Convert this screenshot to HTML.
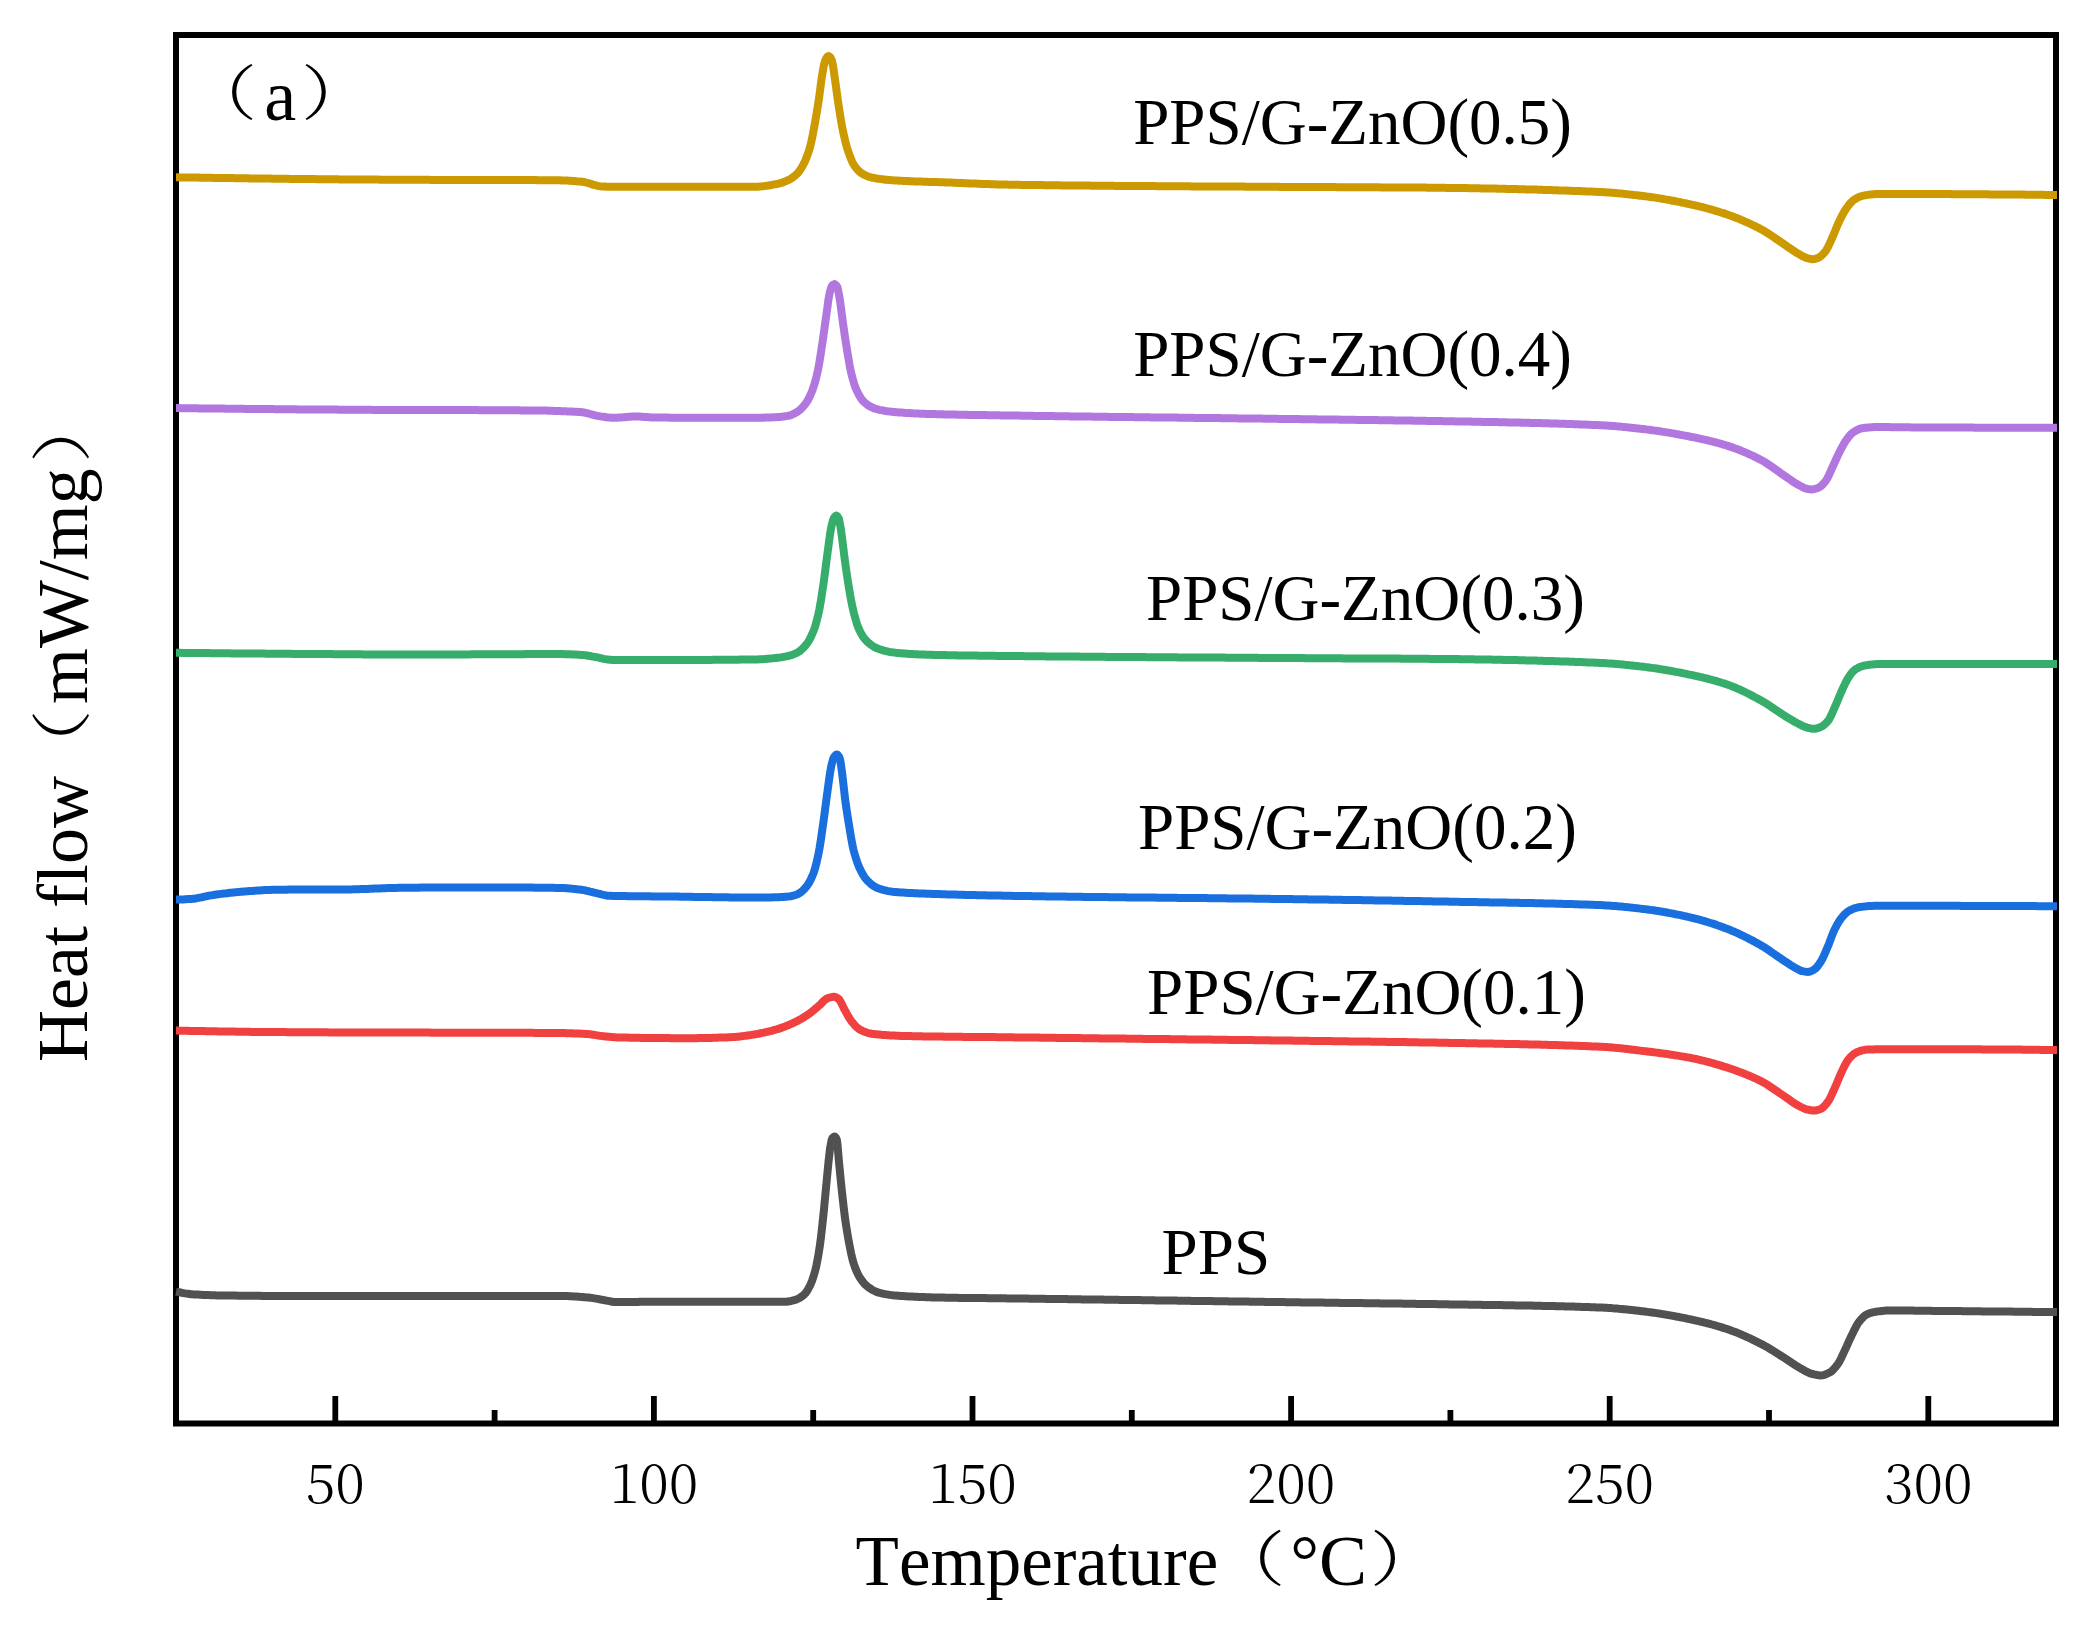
<!DOCTYPE html>
<html><head><meta charset="utf-8"><title>DSC curves</title>
<style>html,body{margin:0;padding:0;background:#fff}svg{display:block}text{font-kerning:none;font-variant-ligatures:none;fill:#000}</style>
</head><body>
<svg width="2086" height="1628" viewBox="0 0 2086 1628">
<rect width="2086" height="1628" fill="#fff"/>
<path d="M335.3 1423.5 V1396 M653.9 1423.5 V1396 M972.5 1423.5 V1396 M1291.1 1423.5 V1396 M1609.7 1423.5 V1396 M1928.3 1423.5 V1396 M494.6 1423.5 V1410 M813.2 1423.5 V1410 M1131.8 1423.5 V1410 M1450.4 1423.5 V1410 M1769.0 1423.5 V1410" stroke="#000" stroke-width="5.8" fill="none"/>
<rect x="176" y="35" width="1880" height="1388.5" fill="none" stroke="#000" stroke-width="6"/>
<path d="M176.0 1291.6 L177.5 1291.9 L179.0 1292.2 L180.5 1292.5 L182.0 1292.8 L183.5 1293.1 L185.0 1293.4 L186.5 1293.6 L188.0 1293.8 L189.5 1294.0 L191.0 1294.2 L191.6 1294.2 L192.5 1294.3 L194.0 1294.4 L195.5 1294.5 L197.0 1294.5 L198.5 1294.6 L200.0 1294.7 L201.5 1294.8 L203.0 1294.9 L204.5 1294.9 L206.0 1295.0 L207.5 1295.1 L209.0 1295.1 L210.5 1295.2 L212.0 1295.2 L213.5 1295.3 L215.0 1295.3 L216.5 1295.4 L218.0 1295.4 L219.5 1295.4 L221.0 1295.5 L222.5 1295.5 L223.9 1295.5 L224.0 1295.5 L225.5 1295.5 L227.0 1295.5 L228.5 1295.6 L230.0 1295.6 L231.5 1295.6 L233.0 1295.6 L234.5 1295.6 L236.0 1295.6 L237.5 1295.7 L239.0 1295.7 L240.5 1295.7 L242.0 1295.7 L243.5 1295.7 L245.0 1295.7 L246.5 1295.8 L248.0 1295.8 L249.5 1295.8 L251.0 1295.8 L252.5 1295.8 L254.0 1295.8 L255.5 1295.8 L257.0 1295.8 L258.5 1295.8 L260.0 1295.8 L261.5 1295.9 L263.0 1295.9 L264.5 1295.9 L266.0 1295.9 L267.5 1295.9 L269.0 1295.9 L270.5 1295.9 L272.0 1295.9 L273.5 1295.9 L275.0 1295.9 L276.5 1295.9 L277.9 1295.9 L278.0 1295.9 L279.5 1295.9 L281.0 1295.9 L282.5 1295.9 L284.0 1295.9 L285.5 1295.9 L287.0 1295.9 L288.5 1295.9 L290.0 1295.9 L291.5 1295.9 L293.0 1295.9 L294.5 1295.9 L296.0 1295.9 L297.5 1295.9 L299.0 1295.9 L300.5 1295.9 L302.0 1295.9 L303.5 1295.9 L305.0 1295.9 L306.5 1295.9 L308.0 1295.9 L309.5 1295.9 L311.0 1295.9 L312.5 1295.9 L314.0 1295.9 L315.5 1295.9 L317.0 1295.9 L318.5 1295.9 L320.0 1295.9 L321.5 1295.9 L323.0 1295.9 L324.5 1295.9 L326.0 1295.9 L327.5 1295.9 L329.0 1295.9 L330.5 1295.9 L332.0 1295.9 L333.5 1295.9 L335.0 1295.9 L336.5 1295.9 L338.0 1295.9 L339.5 1295.9 L341.0 1295.9 L342.5 1295.9 L344.0 1295.9 L345.5 1295.9 L347.0 1295.9 L348.5 1295.9 L350.0 1295.9 L351.5 1295.9 L353.0 1295.9 L354.5 1295.9 L356.0 1295.9 L357.5 1295.9 L359.0 1295.9 L360.5 1295.9 L362.0 1295.9 L363.5 1295.9 L365.0 1295.9 L366.5 1295.9 L368.0 1295.9 L369.5 1295.9 L371.0 1295.9 L372.5 1295.9 L374.0 1295.9 L375.5 1295.9 L377.0 1295.9 L378.5 1295.9 L380.0 1295.9 L381.5 1295.9 L383.0 1295.9 L384.5 1295.9 L386.0 1295.9 L387.5 1295.9 L389.0 1295.9 L390.5 1295.9 L392.0 1295.9 L393.5 1295.9 L395.0 1295.9 L396.5 1295.9 L398.0 1295.9 L399.5 1295.9 L401.0 1295.9 L402.5 1295.9 L404.0 1295.9 L405.5 1295.9 L407.0 1295.9 L408.5 1295.9 L410.0 1295.9 L411.5 1295.9 L413.0 1295.9 L414.5 1295.9 L416.0 1295.9 L417.5 1295.9 L419.0 1295.9 L420.5 1295.9 L422.0 1295.9 L423.5 1295.9 L425.0 1295.9 L426.5 1295.9 L428.0 1295.9 L429.5 1295.9 L431.0 1295.9 L432.5 1295.9 L434.0 1295.9 L435.5 1295.9 L437.0 1295.9 L438.5 1295.9 L440.0 1295.9 L441.5 1295.9 L443.0 1295.9 L444.5 1295.9 L446.0 1295.9 L447.5 1295.9 L449.0 1295.9 L450.5 1295.9 L452.0 1295.9 L453.5 1295.9 L455.0 1295.9 L456.5 1295.9 L458.0 1295.9 L459.5 1295.9 L461.0 1295.9 L462.5 1295.9 L464.0 1295.9 L465.5 1295.9 L467.0 1295.9 L468.5 1295.9 L470.0 1295.9 L471.5 1295.9 L473.0 1295.9 L474.5 1295.9 L476.0 1295.9 L477.5 1295.9 L479.0 1295.9 L480.5 1295.9 L482.0 1295.9 L483.5 1295.9 L485.0 1295.9 L486.5 1295.9 L488.0 1295.9 L489.5 1295.9 L491.0 1295.9 L492.5 1295.9 L494.0 1295.9 L495.5 1295.9 L497.0 1295.9 L498.5 1295.9 L500.0 1295.9 L501.5 1295.9 L503.0 1295.9 L504.5 1295.9 L506.0 1295.9 L507.5 1295.9 L509.0 1295.9 L510.5 1295.9 L512.0 1295.9 L513.5 1295.9 L515.0 1295.9 L516.5 1295.9 L518.0 1295.9 L519.5 1295.9 L521.0 1295.9 L522.5 1295.9 L524.0 1295.9 L525.5 1295.9 L527.0 1295.9 L528.5 1295.9 L530.0 1295.9 L531.5 1295.9 L533.0 1295.9 L534.5 1295.9 L536.0 1295.9 L537.5 1295.9 L539.0 1295.9 L540.5 1295.9 L542.0 1295.9 L543.5 1295.9 L545.0 1295.9 L546.5 1295.9 L548.0 1295.9 L549.5 1295.9 L551.0 1295.9 L552.5 1295.9 L554.0 1295.9 L555.5 1295.9 L557.0 1295.9 L558.3 1295.9 L558.5 1295.9 L560.0 1295.9 L561.5 1295.9 L563.0 1296.0 L564.5 1296.0 L566.0 1296.0 L567.5 1296.1 L569.0 1296.2 L570.5 1296.2 L572.0 1296.3 L573.5 1296.4 L575.0 1296.5 L576.5 1296.6 L578.0 1296.7 L579.5 1296.8 L581.0 1296.9 L582.5 1297.0 L584.0 1297.2 L585.5 1297.3 L587.0 1297.4 L588.0 1297.5 L588.5 1297.5 L590.0 1297.7 L591.5 1297.9 L593.0 1298.1 L594.5 1298.4 L596.0 1298.6 L597.5 1298.9 L599.0 1299.2 L600.5 1299.5 L602.0 1299.7 L603.1 1299.9 L603.5 1300.0 L605.0 1300.3 L606.5 1300.6 L608.0 1300.9 L609.5 1301.2 L611.0 1301.5 L612.5 1301.8 L614.0 1302.0 L615.5 1302.1 L616.1 1302.1 L617.0 1302.1 L618.5 1302.1 L620.0 1302.1 L621.5 1302.1 L623.0 1302.1 L624.5 1302.0 L626.0 1302.0 L627.5 1302.0 L629.0 1302.0 L630.5 1302.0 L632.0 1301.9 L633.5 1301.9 L635.0 1301.9 L636.5 1301.9 L638.0 1301.9 L639.5 1301.8 L641.0 1301.8 L642.5 1301.8 L644.0 1301.8 L645.5 1301.8 L646.3 1301.8 L647.0 1301.8 L648.5 1301.8 L650.0 1301.8 L651.5 1301.8 L653.0 1301.8 L654.5 1301.8 L656.0 1301.8 L657.5 1301.8 L659.0 1301.8 L660.5 1301.8 L662.0 1301.8 L663.5 1301.8 L665.0 1301.8 L666.5 1301.8 L668.0 1301.8 L669.5 1301.8 L671.0 1301.8 L672.5 1301.8 L674.0 1301.8 L675.5 1301.8 L677.0 1301.8 L678.5 1301.8 L680.0 1301.8 L681.5 1301.8 L683.0 1301.8 L684.5 1301.8 L686.0 1301.8 L687.5 1301.8 L689.0 1301.8 L690.5 1301.8 L692.0 1301.8 L693.5 1301.8 L695.0 1301.8 L696.5 1301.8 L698.0 1301.8 L699.5 1301.8 L701.0 1301.8 L702.5 1301.8 L704.0 1301.8 L705.5 1301.8 L707.0 1301.8 L708.5 1301.8 L710.0 1301.8 L711.5 1301.8 L713.0 1301.8 L714.5 1301.8 L716.0 1301.8 L717.5 1301.8 L719.0 1301.8 L720.5 1301.8 L722.0 1301.8 L723.5 1301.8 L725.0 1301.8 L726.5 1301.8 L728.0 1301.8 L729.5 1301.8 L731.0 1301.8 L732.5 1301.8 L734.0 1301.8 L735.5 1301.8 L737.0 1301.8 L738.5 1301.8 L740.0 1301.8 L741.5 1301.8 L743.0 1301.8 L744.5 1301.8 L746.0 1301.8 L747.5 1301.8 L749.0 1301.8 L750.5 1301.8 L752.0 1301.8 L753.5 1301.8 L754.0 1301.8 L755.0 1301.8 L756.5 1301.8 L758.0 1301.8 L759.5 1301.8 L761.0 1301.8 L762.5 1301.8 L764.0 1301.8 L765.5 1301.8 L767.0 1301.8 L768.5 1301.8 L770.0 1301.8 L771.5 1301.8 L773.0 1301.8 L774.5 1301.8 L776.0 1301.8 L777.5 1301.8 L779.0 1301.8 L780.5 1301.8 L782.0 1301.8 L783.5 1301.8 L784.4 1301.8 L785.0 1301.8 L786.5 1301.7 L788.0 1301.5 L789.5 1301.3 L791.0 1301.0 L792.5 1300.6 L794.0 1300.2 L795.1 1299.9 L795.5 1299.8 L797.0 1299.2 L798.5 1298.5 L800.0 1297.7 L801.5 1296.7 L803.0 1295.6 L803.8 1294.9 L804.5 1294.2 L806.0 1292.5 L807.5 1290.2 L809.0 1287.5 L810.2 1285.2 L810.5 1284.6 L812.0 1280.9 L813.5 1276.5 L815.0 1271.3 L815.6 1269.0 L816.5 1265.1 L818.0 1257.3 L819.5 1248.0 L819.9 1245.3 L821.0 1236.9 L822.5 1223.5 L823.6 1213.0 L824.0 1209.1 L825.5 1193.2 L827.0 1177.3 L827.1 1176.3 L828.5 1161.8 L830.0 1148.8 L830.1 1148.2 L831.5 1140.6 L832.2 1138.5 L833.0 1137.4 L834.4 1136.4 L834.5 1136.4 L836.0 1137.9 L836.8 1139.6 L837.5 1144.4 L838.9 1161.2 L839.0 1162.2 L840.5 1177.7 L841.9 1191.4 L842.0 1192.3 L843.5 1205.8 L845.0 1218.0 L845.2 1219.4 L846.5 1228.2 L848.0 1237.2 L849.1 1243.2 L849.5 1245.3 L851.0 1252.8 L852.5 1259.4 L853.4 1262.6 L854.0 1264.4 L855.5 1268.6 L857.0 1272.2 L858.5 1275.3 L859.9 1277.7 L860.0 1277.9 L861.5 1280.0 L863.0 1282.0 L864.5 1283.8 L866.0 1285.3 L867.5 1286.6 L868.5 1287.4 L869.0 1287.7 L870.5 1288.7 L872.0 1289.7 L873.5 1290.5 L875.0 1291.2 L876.5 1291.9 L878.0 1292.4 L879.3 1292.8 L879.5 1292.9 L881.0 1293.2 L882.5 1293.6 L884.0 1293.9 L885.5 1294.2 L887.0 1294.4 L888.5 1294.7 L890.0 1294.9 L891.5 1295.1 L893.0 1295.3 L894.5 1295.4 L896.0 1295.6 L896.5 1295.6 L897.5 1295.7 L899.0 1295.8 L900.5 1295.9 L902.0 1296.0 L903.5 1296.1 L905.0 1296.2 L906.5 1296.3 L908.0 1296.4 L909.5 1296.5 L911.0 1296.5 L912.5 1296.6 L914.0 1296.7 L915.5 1296.8 L917.0 1296.8 L918.5 1296.9 L920.0 1297.0 L921.5 1297.0 L923.0 1297.1 L924.5 1297.1 L926.0 1297.2 L927.5 1297.2 L929.0 1297.3 L930.5 1297.3 L932.0 1297.4 L933.5 1297.4 L935.0 1297.4 L936.5 1297.5 L937.5 1297.5 L938.0 1297.5 L939.5 1297.5 L941.0 1297.6 L942.5 1297.6 L944.0 1297.6 L945.5 1297.7 L947.0 1297.7 L948.5 1297.7 L950.0 1297.7 L951.5 1297.7 L953.0 1297.8 L954.5 1297.8 L956.0 1297.8 L957.5 1297.8 L959.0 1297.9 L960.5 1297.9 L962.0 1297.9 L963.5 1297.9 L965.0 1297.9 L966.5 1297.9 L968.0 1298.0 L969.5 1298.0 L971.0 1298.0 L972.5 1298.0 L974.0 1298.0 L975.5 1298.0 L977.0 1298.1 L978.5 1298.1 L980.0 1298.1 L981.5 1298.1 L983.0 1298.1 L984.5 1298.1 L986.0 1298.1 L987.5 1298.2 L989.0 1298.2 L990.5 1298.2 L992.0 1298.2 L993.5 1298.2 L995.0 1298.2 L996.5 1298.2 L998.0 1298.3 L999.5 1298.3 L1001.0 1298.3 L1002.5 1298.3 L1004.0 1298.3 L1005.5 1298.3 L1007.0 1298.4 L1008.5 1298.4 L1010.0 1298.4 L1011.5 1298.4 L1013.0 1298.4 L1014.5 1298.5 L1016.0 1298.5 L1017.5 1298.5 L1019.0 1298.5 L1020.5 1298.5 L1022.0 1298.6 L1023.5 1298.6 L1025.0 1298.6 L1026.5 1298.6 L1028.0 1298.6 L1029.5 1298.7 L1031.0 1298.7 L1032.5 1298.7 L1034.0 1298.7 L1035.5 1298.7 L1037.0 1298.8 L1038.5 1298.8 L1040.0 1298.8 L1041.5 1298.8 L1043.0 1298.8 L1044.5 1298.8 L1046.0 1298.9 L1047.5 1298.9 L1049.0 1298.9 L1050.5 1298.9 L1052.0 1298.9 L1053.5 1299.0 L1055.0 1299.0 L1056.5 1299.0 L1058.0 1299.0 L1059.5 1299.0 L1061.0 1299.1 L1062.5 1299.1 L1064.0 1299.1 L1065.5 1299.1 L1067.0 1299.1 L1068.5 1299.2 L1070.0 1299.2 L1071.5 1299.2 L1073.0 1299.2 L1074.5 1299.2 L1076.0 1299.3 L1077.5 1299.3 L1079.0 1299.3 L1080.5 1299.3 L1082.0 1299.4 L1083.5 1299.4 L1085.0 1299.4 L1086.5 1299.4 L1088.0 1299.4 L1089.5 1299.5 L1091.0 1299.5 L1092.5 1299.5 L1094.0 1299.5 L1095.5 1299.5 L1097.0 1299.6 L1098.5 1299.6 L1100.0 1299.6 L1101.5 1299.6 L1103.0 1299.6 L1104.5 1299.7 L1106.0 1299.7 L1107.5 1299.7 L1109.0 1299.7 L1110.5 1299.7 L1112.0 1299.8 L1113.5 1299.8 L1115.0 1299.8 L1116.5 1299.8 L1118.0 1299.8 L1119.5 1299.9 L1121.0 1299.9 L1122.5 1299.9 L1124.0 1299.9 L1125.5 1299.9 L1127.0 1300.0 L1128.5 1300.0 L1130.0 1300.0 L1131.5 1300.0 L1133.0 1300.0 L1134.5 1300.1 L1136.0 1300.1 L1137.5 1300.1 L1139.0 1300.1 L1140.5 1300.1 L1142.0 1300.2 L1143.5 1300.2 L1145.0 1300.2 L1146.5 1300.2 L1148.0 1300.3 L1149.5 1300.3 L1151.0 1300.3 L1152.5 1300.3 L1154.0 1300.3 L1155.5 1300.4 L1157.0 1300.4 L1158.5 1300.4 L1160.0 1300.4 L1161.5 1300.4 L1163.0 1300.5 L1164.5 1300.5 L1166.0 1300.5 L1167.5 1300.5 L1169.0 1300.5 L1170.5 1300.6 L1172.0 1300.6 L1173.5 1300.6 L1175.0 1300.6 L1176.5 1300.6 L1178.0 1300.7 L1179.5 1300.7 L1181.0 1300.7 L1182.5 1300.7 L1184.0 1300.7 L1185.5 1300.8 L1187.0 1300.8 L1188.5 1300.8 L1190.0 1300.8 L1191.5 1300.9 L1193.0 1300.9 L1194.5 1300.9 L1196.0 1300.9 L1197.5 1300.9 L1199.0 1301.0 L1200.5 1301.0 L1202.0 1301.0 L1203.5 1301.0 L1205.0 1301.0 L1206.5 1301.1 L1208.0 1301.1 L1209.5 1301.1 L1211.0 1301.1 L1212.5 1301.1 L1214.0 1301.2 L1215.5 1301.2 L1217.0 1301.2 L1218.5 1301.2 L1220.0 1301.2 L1221.5 1301.3 L1223.0 1301.3 L1224.5 1301.3 L1226.0 1301.3 L1227.5 1301.3 L1229.0 1301.4 L1230.5 1301.4 L1232.0 1301.4 L1233.5 1301.4 L1235.0 1301.5 L1236.5 1301.5 L1238.0 1301.5 L1239.5 1301.5 L1241.0 1301.5 L1242.5 1301.6 L1244.0 1301.6 L1245.5 1301.6 L1247.0 1301.6 L1248.5 1301.6 L1250.0 1301.7 L1251.5 1301.7 L1253.0 1301.7 L1254.5 1301.7 L1256.0 1301.7 L1257.5 1301.8 L1259.0 1301.8 L1260.5 1301.8 L1262.0 1301.8 L1263.5 1301.8 L1265.0 1301.9 L1266.5 1301.9 L1268.0 1301.9 L1269.5 1301.9 L1271.0 1301.9 L1272.5 1302.0 L1274.0 1302.0 L1275.5 1302.0 L1277.0 1302.0 L1278.5 1302.0 L1280.0 1302.1 L1281.5 1302.1 L1283.0 1302.1 L1284.5 1302.1 L1286.0 1302.2 L1287.5 1302.2 L1289.0 1302.2 L1290.5 1302.2 L1292.0 1302.2 L1293.5 1302.3 L1295.0 1302.3 L1296.5 1302.3 L1297.0 1302.3 L1298.0 1302.3 L1299.5 1302.3 L1301.0 1302.4 L1302.5 1302.4 L1304.0 1302.4 L1305.5 1302.4 L1307.0 1302.4 L1308.5 1302.5 L1310.0 1302.5 L1311.5 1302.5 L1313.0 1302.5 L1314.5 1302.5 L1316.0 1302.6 L1317.5 1302.6 L1319.0 1302.6 L1320.5 1302.6 L1322.0 1302.6 L1323.5 1302.6 L1325.0 1302.7 L1326.5 1302.7 L1328.0 1302.7 L1329.5 1302.7 L1331.0 1302.7 L1332.5 1302.8 L1334.0 1302.8 L1335.5 1302.8 L1337.0 1302.8 L1338.5 1302.8 L1340.0 1302.9 L1341.5 1302.9 L1343.0 1302.9 L1344.5 1302.9 L1346.0 1302.9 L1347.5 1302.9 L1349.0 1303.0 L1350.5 1303.0 L1352.0 1303.0 L1353.5 1303.0 L1355.0 1303.0 L1356.5 1303.1 L1358.0 1303.1 L1359.5 1303.1 L1361.0 1303.1 L1362.5 1303.1 L1364.0 1303.2 L1365.5 1303.2 L1367.0 1303.2 L1368.5 1303.2 L1370.0 1303.2 L1371.5 1303.2 L1373.0 1303.3 L1374.5 1303.3 L1376.0 1303.3 L1377.5 1303.3 L1379.0 1303.3 L1380.5 1303.4 L1382.0 1303.4 L1383.5 1303.4 L1385.0 1303.4 L1386.5 1303.4 L1388.0 1303.5 L1389.5 1303.5 L1391.0 1303.5 L1392.5 1303.5 L1394.0 1303.5 L1395.5 1303.6 L1397.0 1303.6 L1398.5 1303.6 L1400.0 1303.6 L1401.5 1303.6 L1403.0 1303.7 L1404.5 1303.7 L1406.0 1303.7 L1407.5 1303.7 L1409.0 1303.7 L1410.5 1303.8 L1412.0 1303.8 L1413.5 1303.8 L1415.0 1303.8 L1416.5 1303.9 L1418.0 1303.9 L1419.5 1303.9 L1421.0 1303.9 L1422.5 1303.9 L1424.0 1304.0 L1425.5 1304.0 L1427.0 1304.0 L1428.5 1304.0 L1430.0 1304.1 L1431.5 1304.1 L1433.0 1304.1 L1434.5 1304.1 L1436.0 1304.1 L1437.5 1304.2 L1439.0 1304.2 L1440.5 1304.2 L1442.0 1304.2 L1443.5 1304.3 L1445.0 1304.3 L1445.8 1304.3 L1446.5 1304.3 L1448.0 1304.3 L1449.5 1304.4 L1451.0 1304.4 L1452.5 1304.4 L1454.0 1304.4 L1455.5 1304.5 L1457.0 1304.5 L1458.5 1304.5 L1460.0 1304.5 L1461.5 1304.5 L1463.0 1304.6 L1464.5 1304.6 L1466.0 1304.6 L1467.5 1304.6 L1469.0 1304.7 L1470.5 1304.7 L1472.0 1304.7 L1473.5 1304.7 L1475.0 1304.7 L1476.5 1304.8 L1478.0 1304.8 L1479.5 1304.8 L1481.0 1304.8 L1482.5 1304.9 L1484.0 1304.9 L1485.5 1304.9 L1487.0 1304.9 L1488.5 1304.9 L1490.0 1305.0 L1491.5 1305.0 L1493.0 1305.0 L1494.5 1305.0 L1496.0 1305.0 L1497.5 1305.1 L1499.0 1305.1 L1500.5 1305.1 L1502.0 1305.1 L1503.5 1305.2 L1505.0 1305.2 L1506.5 1305.2 L1508.0 1305.2 L1509.5 1305.3 L1511.0 1305.3 L1512.5 1305.3 L1514.0 1305.3 L1515.5 1305.4 L1517.0 1305.4 L1518.5 1305.4 L1520.0 1305.4 L1521.5 1305.5 L1523.0 1305.5 L1524.5 1305.5 L1526.0 1305.5 L1527.5 1305.6 L1529.0 1305.6 L1530.5 1305.6 L1532.0 1305.6 L1533.5 1305.7 L1535.0 1305.7 L1536.5 1305.7 L1538.0 1305.8 L1539.5 1305.8 L1541.0 1305.8 L1542.5 1305.9 L1544.0 1305.9 L1545.5 1305.9 L1547.0 1305.9 L1548.5 1306.0 L1550.0 1306.0 L1551.5 1306.1 L1553.0 1306.1 L1554.5 1306.1 L1556.0 1306.2 L1557.5 1306.2 L1559.0 1306.2 L1560.5 1306.3 L1562.0 1306.3 L1563.5 1306.3 L1565.0 1306.4 L1566.5 1306.4 L1568.0 1306.5 L1569.5 1306.5 L1571.0 1306.5 L1572.5 1306.6 L1574.0 1306.6 L1575.5 1306.7 L1577.0 1306.7 L1578.5 1306.8 L1580.0 1306.8 L1581.5 1306.9 L1583.0 1306.9 L1584.5 1307.0 L1586.0 1307.0 L1587.5 1307.1 L1589.0 1307.1 L1590.5 1307.2 L1592.0 1307.2 L1593.5 1307.3 L1595.0 1307.3 L1596.5 1307.4 L1598.0 1307.4 L1599.5 1307.5 L1600.0 1307.5 L1601.0 1307.5 L1602.5 1307.6 L1604.0 1307.7 L1605.5 1307.8 L1607.0 1307.8 L1608.5 1307.9 L1610.0 1308.0 L1611.5 1308.1 L1613.0 1308.3 L1614.5 1308.4 L1616.0 1308.5 L1617.5 1308.6 L1619.0 1308.8 L1620.5 1308.9 L1622.0 1309.0 L1623.5 1309.2 L1625.0 1309.3 L1626.5 1309.5 L1628.0 1309.6 L1629.5 1309.8 L1631.0 1310.0 L1632.5 1310.1 L1634.0 1310.3 L1635.5 1310.5 L1637.0 1310.6 L1638.5 1310.8 L1640.0 1311.0 L1641.5 1311.2 L1643.0 1311.3 L1644.5 1311.5 L1646.0 1311.7 L1647.5 1311.9 L1649.0 1312.1 L1650.5 1312.3 L1652.0 1312.5 L1653.5 1312.7 L1655.0 1312.9 L1656.5 1313.1 L1658.0 1313.3 L1659.5 1313.6 L1661.0 1313.8 L1662.5 1314.1 L1664.0 1314.3 L1665.5 1314.6 L1667.0 1314.8 L1668.5 1315.1 L1670.0 1315.3 L1671.5 1315.6 L1673.0 1315.9 L1674.5 1316.2 L1676.0 1316.5 L1677.5 1316.7 L1679.0 1317.0 L1680.5 1317.3 L1682.0 1317.6 L1683.5 1317.9 L1685.0 1318.2 L1686.5 1318.5 L1688.0 1318.9 L1689.5 1319.2 L1691.0 1319.5 L1692.0 1319.7 L1692.5 1319.8 L1694.0 1320.1 L1695.5 1320.5 L1697.0 1320.8 L1698.5 1321.1 L1700.0 1321.5 L1701.5 1321.8 L1703.0 1322.2 L1704.5 1322.6 L1706.0 1322.9 L1707.5 1323.3 L1709.0 1323.7 L1710.5 1324.1 L1712.0 1324.5 L1713.5 1324.9 L1715.0 1325.3 L1716.5 1325.8 L1718.0 1326.2 L1719.5 1326.7 L1721.0 1327.1 L1722.5 1327.6 L1724.0 1328.1 L1725.5 1328.5 L1726.6 1328.9 L1727.0 1329.0 L1728.5 1329.5 L1730.0 1330.1 L1731.5 1330.6 L1733.0 1331.2 L1734.5 1331.7 L1736.0 1332.3 L1737.5 1332.9 L1739.0 1333.5 L1740.5 1334.2 L1742.0 1334.8 L1743.5 1335.5 L1745.0 1336.1 L1746.5 1336.8 L1748.0 1337.5 L1749.5 1338.2 L1751.0 1338.9 L1752.5 1339.6 L1754.0 1340.4 L1755.5 1341.1 L1757.0 1341.8 L1758.5 1342.6 L1760.0 1343.3 L1761.1 1343.9 L1761.5 1344.1 L1763.0 1344.9 L1764.5 1345.7 L1766.0 1346.5 L1767.5 1347.4 L1769.0 1348.3 L1770.5 1349.2 L1772.0 1350.1 L1773.5 1351.0 L1775.0 1352.0 L1776.5 1352.9 L1778.0 1353.9 L1779.5 1354.8 L1781.0 1355.8 L1782.5 1356.7 L1784.0 1357.6 L1784.1 1357.7 L1785.5 1358.6 L1787.0 1359.6 L1788.5 1360.6 L1790.0 1361.6 L1791.5 1362.6 L1793.0 1363.6 L1794.5 1364.6 L1796.0 1365.6 L1797.5 1366.5 L1799.0 1367.4 L1800.2 1368.1 L1800.5 1368.3 L1802.0 1369.1 L1803.5 1370.0 L1805.0 1370.9 L1806.5 1371.7 L1808.0 1372.4 L1809.5 1373.1 L1811.0 1373.6 L1811.7 1373.8 L1812.5 1374.0 L1814.0 1374.4 L1815.5 1374.7 L1817.0 1375.0 L1818.5 1375.2 L1820.0 1375.4 L1820.9 1375.4 L1821.5 1375.4 L1823.0 1375.2 L1824.5 1374.8 L1826.0 1374.2 L1827.5 1373.5 L1829.0 1372.8 L1830.1 1372.2 L1830.5 1372.0 L1832.0 1370.9 L1833.5 1369.4 L1835.0 1367.7 L1836.5 1365.8 L1838.0 1363.8 L1838.2 1363.5 L1839.5 1361.4 L1841.0 1358.5 L1842.5 1355.3 L1844.0 1352.1 L1845.1 1349.7 L1845.5 1348.9 L1847.0 1345.6 L1848.5 1342.2 L1850.0 1338.9 L1851.5 1335.7 L1852.0 1334.7 L1853.0 1332.7 L1854.5 1329.6 L1856.0 1326.7 L1857.5 1324.0 L1858.9 1322.0 L1859.0 1321.9 L1860.5 1320.0 L1862.0 1318.3 L1863.5 1316.8 L1865.0 1315.5 L1866.5 1314.6 L1866.9 1314.4 L1868.0 1313.9 L1869.5 1313.3 L1871.0 1312.8 L1872.5 1312.4 L1874.0 1312.1 L1875.5 1311.8 L1876.1 1311.7 L1877.0 1311.6 L1878.5 1311.4 L1880.0 1311.2 L1881.5 1311.0 L1883.0 1310.9 L1884.5 1310.7 L1886.0 1310.6 L1887.5 1310.5 L1889.0 1310.5 L1889.9 1310.5 L1890.5 1310.5 L1892.0 1310.5 L1893.5 1310.5 L1895.0 1310.5 L1896.5 1310.5 L1898.0 1310.5 L1899.5 1310.5 L1901.0 1310.5 L1902.5 1310.5 L1904.0 1310.6 L1905.5 1310.6 L1907.0 1310.6 L1908.5 1310.6 L1910.0 1310.6 L1911.5 1310.6 L1913.0 1310.6 L1914.5 1310.7 L1916.0 1310.7 L1917.5 1310.7 L1919.0 1310.7 L1920.5 1310.7 L1922.0 1310.7 L1923.5 1310.8 L1925.0 1310.8 L1926.5 1310.8 L1928.0 1310.8 L1929.5 1310.8 L1931.0 1310.8 L1932.5 1310.9 L1934.0 1310.9 L1935.5 1310.9 L1937.0 1310.9 L1938.5 1310.9 L1940.0 1310.9 L1941.5 1311.0 L1943.0 1311.0 L1944.5 1311.0 L1945.2 1311.0 L1946.0 1311.0 L1947.5 1311.0 L1949.0 1311.0 L1950.5 1311.0 L1952.0 1311.1 L1953.5 1311.1 L1955.0 1311.1 L1956.5 1311.1 L1958.0 1311.1 L1959.5 1311.1 L1961.0 1311.1 L1962.5 1311.2 L1964.0 1311.2 L1965.5 1311.2 L1967.0 1311.2 L1968.5 1311.2 L1970.0 1311.2 L1971.5 1311.2 L1973.0 1311.3 L1974.5 1311.3 L1976.0 1311.3 L1977.5 1311.3 L1979.0 1311.3 L1980.5 1311.3 L1982.0 1311.4 L1983.5 1311.4 L1985.0 1311.4 L1986.5 1311.4 L1988.0 1311.4 L1989.5 1311.4 L1991.0 1311.4 L1992.5 1311.5 L1994.0 1311.5 L1995.5 1311.5 L1997.0 1311.5 L1998.5 1311.5 L2000.0 1311.5 L2001.5 1311.5 L2003.0 1311.6 L2004.5 1311.6 L2006.0 1311.6 L2007.5 1311.6 L2009.0 1311.6 L2010.5 1311.6 L2012.0 1311.6 L2013.5 1311.7 L2015.0 1311.7 L2016.5 1311.7 L2018.0 1311.7 L2019.5 1311.7 L2021.0 1311.7 L2022.5 1311.7 L2024.0 1311.8 L2025.5 1311.8 L2027.0 1311.8 L2028.5 1311.8 L2030.0 1311.8 L2031.5 1311.8 L2033.0 1311.9 L2034.5 1311.9 L2036.0 1311.9 L2037.5 1311.9 L2039.0 1311.9 L2040.5 1311.9 L2042.0 1311.9 L2043.5 1312.0 L2045.0 1312.0 L2046.5 1312.0 L2048.0 1312.0 L2049.5 1312.0 L2051.0 1312.0 L2052.5 1312.1 L2054.0 1312.1 L2055.5 1312.1 L2057.0 1312.1" fill="none" stroke="#515151" stroke-width="8" stroke-linejoin="round"/>
<path d="M176.0 1030.6 L177.5 1030.6 L179.0 1030.7 L180.5 1030.7 L182.0 1030.7 L183.5 1030.7 L185.0 1030.8 L186.5 1030.8 L188.0 1030.8 L189.5 1030.9 L191.0 1030.9 L192.5 1030.9 L194.0 1030.9 L195.5 1031.0 L197.0 1031.0 L198.5 1031.0 L200.0 1031.0 L201.5 1031.1 L203.0 1031.1 L204.5 1031.1 L206.0 1031.2 L207.5 1031.2 L209.0 1031.2 L210.5 1031.2 L212.0 1031.3 L213.5 1031.3 L215.0 1031.3 L216.5 1031.3 L218.0 1031.4 L219.5 1031.4 L221.0 1031.4 L222.5 1031.4 L224.0 1031.5 L225.5 1031.5 L227.0 1031.5 L228.5 1031.5 L230.0 1031.6 L231.5 1031.6 L233.0 1031.6 L234.5 1031.6 L236.0 1031.7 L237.5 1031.7 L239.0 1031.7 L240.5 1031.7 L242.0 1031.7 L243.5 1031.8 L245.0 1031.8 L246.5 1031.8 L248.0 1031.8 L249.5 1031.8 L251.0 1031.9 L252.5 1031.9 L254.0 1031.9 L255.5 1031.9 L257.0 1031.9 L258.5 1031.9 L260.0 1032.0 L261.5 1032.0 L263.0 1032.0 L264.5 1032.0 L266.0 1032.0 L267.5 1032.0 L269.0 1032.0 L270.5 1032.0 L272.0 1032.1 L273.5 1032.1 L275.0 1032.1 L276.5 1032.1 L277.9 1032.1 L278.0 1032.1 L279.5 1032.1 L281.0 1032.1 L282.5 1032.1 L284.0 1032.1 L285.5 1032.1 L287.0 1032.2 L288.5 1032.2 L290.0 1032.2 L291.5 1032.2 L293.0 1032.2 L294.5 1032.2 L296.0 1032.2 L297.5 1032.2 L299.0 1032.2 L300.5 1032.2 L302.0 1032.2 L303.5 1032.2 L305.0 1032.2 L306.5 1032.3 L308.0 1032.3 L309.5 1032.3 L311.0 1032.3 L312.5 1032.3 L314.0 1032.3 L315.5 1032.3 L317.0 1032.3 L318.5 1032.3 L320.0 1032.3 L321.5 1032.3 L323.0 1032.3 L324.5 1032.3 L326.0 1032.3 L327.5 1032.3 L329.0 1032.4 L330.5 1032.4 L332.0 1032.4 L333.5 1032.4 L335.0 1032.4 L336.5 1032.4 L338.0 1032.4 L339.5 1032.4 L341.0 1032.4 L342.5 1032.4 L344.0 1032.4 L345.5 1032.4 L347.0 1032.4 L348.5 1032.4 L350.0 1032.4 L351.5 1032.4 L353.0 1032.4 L354.5 1032.4 L356.0 1032.4 L357.5 1032.5 L359.0 1032.5 L360.5 1032.5 L362.0 1032.5 L363.5 1032.5 L365.0 1032.5 L366.5 1032.5 L368.0 1032.5 L369.5 1032.5 L371.0 1032.5 L372.5 1032.5 L374.0 1032.5 L375.5 1032.5 L377.0 1032.5 L378.5 1032.5 L380.0 1032.5 L381.5 1032.5 L383.0 1032.5 L384.5 1032.5 L386.0 1032.5 L387.5 1032.5 L389.0 1032.5 L390.5 1032.5 L392.0 1032.6 L393.5 1032.6 L395.0 1032.6 L396.5 1032.6 L398.0 1032.6 L399.5 1032.6 L401.0 1032.6 L402.5 1032.6 L404.0 1032.6 L405.5 1032.6 L407.0 1032.6 L408.5 1032.6 L410.0 1032.6 L411.5 1032.6 L413.0 1032.6 L414.5 1032.6 L416.0 1032.6 L417.5 1032.6 L419.0 1032.6 L420.5 1032.6 L422.0 1032.6 L423.5 1032.6 L425.0 1032.6 L426.5 1032.6 L428.0 1032.6 L429.5 1032.6 L431.0 1032.7 L432.5 1032.7 L434.0 1032.7 L435.5 1032.7 L437.0 1032.7 L438.5 1032.7 L440.0 1032.7 L441.5 1032.7 L443.0 1032.7 L444.5 1032.7 L446.0 1032.7 L447.5 1032.7 L449.0 1032.7 L450.4 1032.7 L450.5 1032.7 L452.0 1032.7 L453.5 1032.7 L455.0 1032.7 L456.5 1032.7 L458.0 1032.7 L459.5 1032.7 L461.0 1032.7 L462.5 1032.7 L464.0 1032.7 L465.5 1032.7 L467.0 1032.7 L468.5 1032.7 L470.0 1032.7 L471.5 1032.7 L473.0 1032.7 L474.5 1032.7 L476.0 1032.7 L477.5 1032.7 L479.0 1032.8 L480.5 1032.8 L482.0 1032.8 L483.5 1032.8 L485.0 1032.8 L486.5 1032.8 L488.0 1032.8 L489.5 1032.8 L491.0 1032.8 L492.5 1032.8 L494.0 1032.8 L495.5 1032.8 L497.0 1032.8 L498.5 1032.8 L500.0 1032.8 L501.5 1032.8 L503.0 1032.8 L504.5 1032.8 L506.0 1032.8 L507.5 1032.8 L509.0 1032.8 L510.5 1032.8 L512.0 1032.8 L513.5 1032.8 L515.0 1032.8 L516.5 1032.8 L518.0 1032.8 L519.5 1032.8 L521.0 1032.8 L522.5 1032.8 L524.0 1032.8 L525.5 1032.8 L527.0 1032.8 L528.5 1032.8 L530.0 1032.8 L531.5 1032.8 L533.0 1032.8 L534.5 1032.9 L536.0 1032.9 L537.5 1032.9 L539.0 1032.9 L540.5 1032.9 L542.0 1032.9 L543.5 1032.9 L545.0 1032.9 L546.5 1032.9 L547.5 1032.9 L548.0 1032.9 L549.5 1032.9 L551.0 1032.9 L552.5 1032.9 L554.0 1033.0 L555.5 1033.0 L557.0 1033.0 L558.5 1033.0 L560.0 1033.0 L561.5 1033.1 L563.0 1033.1 L564.5 1033.1 L566.0 1033.2 L567.5 1033.2 L569.0 1033.3 L570.5 1033.3 L572.0 1033.3 L573.5 1033.4 L575.0 1033.4 L576.5 1033.5 L578.0 1033.6 L579.5 1033.6 L581.0 1033.7 L582.5 1033.7 L584.0 1033.8 L585.5 1033.9 L585.9 1033.9 L587.0 1034.0 L588.5 1034.1 L590.0 1034.3 L591.5 1034.5 L593.0 1034.7 L594.5 1034.9 L596.0 1035.2 L597.5 1035.4 L599.0 1035.7 L600.5 1035.9 L602.0 1036.1 L603.1 1036.2 L603.5 1036.2 L605.0 1036.4 L606.5 1036.5 L608.0 1036.7 L609.5 1036.8 L611.0 1036.9 L612.5 1037.1 L614.0 1037.2 L615.5 1037.3 L617.0 1037.4 L618.5 1037.4 L620.0 1037.5 L620.4 1037.5 L621.5 1037.5 L623.0 1037.6 L624.5 1037.6 L626.0 1037.6 L627.5 1037.6 L629.0 1037.7 L630.5 1037.7 L632.0 1037.7 L633.5 1037.7 L635.0 1037.8 L636.5 1037.8 L638.0 1037.8 L639.5 1037.8 L641.0 1037.9 L642.5 1037.9 L644.0 1037.9 L645.5 1037.9 L647.0 1037.9 L648.5 1038.0 L650.0 1038.0 L651.5 1038.0 L653.0 1038.0 L654.5 1038.0 L656.0 1038.0 L657.5 1038.1 L659.0 1038.1 L660.5 1038.1 L662.0 1038.1 L663.5 1038.1 L665.0 1038.1 L666.5 1038.1 L668.0 1038.1 L669.5 1038.1 L671.0 1038.2 L672.5 1038.2 L674.0 1038.2 L675.5 1038.2 L677.0 1038.2 L678.5 1038.2 L680.0 1038.2 L681.5 1038.2 L683.0 1038.2 L684.5 1038.2 L686.0 1038.2 L687.5 1038.2 L689.0 1038.2 L689.4 1038.2 L690.5 1038.2 L692.0 1038.2 L693.5 1038.2 L695.0 1038.2 L696.5 1038.2 L698.0 1038.1 L699.5 1038.1 L701.0 1038.1 L702.5 1038.1 L704.0 1038.1 L705.5 1038.0 L707.0 1038.0 L708.5 1038.0 L710.0 1037.9 L711.5 1037.9 L713.0 1037.8 L714.5 1037.8 L716.0 1037.7 L717.5 1037.7 L719.0 1037.6 L720.5 1037.6 L722.0 1037.5 L723.5 1037.5 L725.0 1037.4 L726.5 1037.4 L728.0 1037.3 L729.5 1037.2 L731.0 1037.2 L732.5 1037.1 L732.6 1037.1 L734.0 1037.0 L735.5 1036.9 L737.0 1036.8 L738.5 1036.7 L740.0 1036.5 L741.5 1036.3 L743.0 1036.1 L744.5 1035.9 L746.0 1035.7 L747.5 1035.5 L749.0 1035.3 L750.5 1035.1 L752.0 1034.8 L753.5 1034.6 L754.0 1034.5 L755.0 1034.3 L756.5 1034.1 L758.0 1033.8 L759.5 1033.5 L761.0 1033.2 L762.5 1032.9 L764.0 1032.6 L765.5 1032.2 L767.0 1031.9 L768.5 1031.5 L770.0 1031.1 L771.5 1030.8 L773.0 1030.4 L774.5 1029.9 L775.7 1029.6 L776.0 1029.5 L777.5 1029.1 L779.0 1028.6 L780.5 1028.1 L782.0 1027.6 L783.5 1027.0 L785.0 1026.5 L786.5 1025.9 L788.0 1025.3 L789.5 1024.6 L791.0 1024.0 L792.5 1023.3 L793.0 1023.1 L794.0 1022.6 L795.5 1021.9 L797.0 1021.2 L798.5 1020.4 L800.0 1019.5 L801.5 1018.7 L803.0 1017.8 L804.5 1016.8 L806.0 1015.9 L807.5 1014.9 L808.1 1014.5 L809.0 1013.9 L810.5 1012.8 L812.0 1011.6 L813.5 1010.4 L815.0 1009.1 L816.5 1007.8 L818.0 1006.6 L818.9 1005.8 L819.5 1005.3 L821.0 1003.8 L822.5 1002.2 L824.0 1000.7 L825.5 999.4 L827.0 998.5 L827.5 998.3 L828.5 997.9 L830.0 997.5 L831.5 997.1 L833.0 996.8 L834.0 996.8 L834.5 996.8 L836.0 997.3 L837.5 998.2 L838.3 998.7 L839.0 999.3 L840.5 1001.5 L842.0 1004.5 L843.5 1007.6 L844.8 1010.1 L845.0 1010.4 L846.5 1013.1 L848.0 1015.9 L849.5 1018.4 L851.0 1020.6 L851.2 1020.9 L852.5 1022.5 L854.0 1024.3 L855.5 1026.0 L857.0 1027.5 L858.5 1028.7 L859.9 1029.6 L860.0 1029.7 L861.5 1030.4 L863.0 1031.1 L864.5 1031.7 L866.0 1032.3 L867.5 1032.8 L869.0 1033.2 L870.5 1033.5 L872.0 1033.8 L872.8 1033.9 L873.5 1034.0 L875.0 1034.2 L876.5 1034.3 L878.0 1034.5 L879.5 1034.6 L881.0 1034.7 L882.5 1034.9 L884.0 1035.0 L885.5 1035.1 L887.0 1035.2 L888.5 1035.3 L890.0 1035.4 L891.5 1035.5 L893.0 1035.6 L894.5 1035.6 L896.0 1035.7 L897.5 1035.8 L899.0 1035.8 L900.5 1035.9 L902.0 1035.9 L903.5 1036.0 L905.0 1036.0 L905.2 1036.0 L906.5 1036.0 L908.0 1036.1 L909.5 1036.1 L911.0 1036.1 L912.5 1036.2 L914.0 1036.2 L915.5 1036.2 L917.0 1036.3 L918.5 1036.3 L920.0 1036.3 L921.5 1036.3 L923.0 1036.4 L924.5 1036.4 L926.0 1036.4 L927.5 1036.4 L929.0 1036.5 L930.5 1036.5 L932.0 1036.5 L933.5 1036.5 L935.0 1036.5 L936.5 1036.6 L938.0 1036.6 L939.5 1036.6 L941.0 1036.6 L942.5 1036.6 L944.0 1036.7 L945.5 1036.7 L947.0 1036.7 L948.5 1036.7 L950.0 1036.7 L951.5 1036.7 L953.0 1036.8 L954.5 1036.8 L956.0 1036.8 L957.5 1036.8 L959.0 1036.8 L960.5 1036.8 L962.0 1036.8 L963.5 1036.9 L965.0 1036.9 L966.5 1036.9 L968.0 1036.9 L969.5 1036.9 L971.0 1036.9 L972.5 1036.9 L974.0 1036.9 L975.5 1037.0 L977.0 1037.0 L978.5 1037.0 L980.0 1037.0 L981.5 1037.0 L983.0 1037.0 L984.5 1037.0 L986.0 1037.1 L987.5 1037.1 L989.0 1037.1 L990.5 1037.1 L992.0 1037.1 L993.5 1037.1 L995.0 1037.1 L996.5 1037.2 L998.0 1037.2 L999.5 1037.2 L1001.0 1037.2 L1002.5 1037.2 L1004.0 1037.2 L1005.5 1037.2 L1007.0 1037.3 L1008.5 1037.3 L1010.0 1037.3 L1011.5 1037.3 L1013.0 1037.3 L1014.5 1037.4 L1016.0 1037.4 L1017.5 1037.4 L1019.0 1037.4 L1020.5 1037.4 L1022.0 1037.4 L1023.5 1037.5 L1025.0 1037.5 L1026.5 1037.5 L1028.0 1037.5 L1029.5 1037.5 L1031.0 1037.6 L1032.5 1037.6 L1034.0 1037.6 L1035.5 1037.6 L1037.0 1037.6 L1038.5 1037.6 L1040.0 1037.7 L1041.5 1037.7 L1043.0 1037.7 L1044.5 1037.7 L1046.0 1037.7 L1047.5 1037.7 L1049.0 1037.8 L1050.5 1037.8 L1052.0 1037.8 L1053.5 1037.8 L1055.0 1037.8 L1056.5 1037.9 L1058.0 1037.9 L1059.5 1037.9 L1061.0 1037.9 L1062.5 1037.9 L1064.0 1037.9 L1065.5 1038.0 L1067.0 1038.0 L1068.5 1038.0 L1070.0 1038.0 L1071.5 1038.0 L1073.0 1038.0 L1074.5 1038.1 L1076.0 1038.1 L1077.5 1038.1 L1079.0 1038.1 L1080.5 1038.1 L1082.0 1038.2 L1083.5 1038.2 L1085.0 1038.2 L1086.5 1038.2 L1088.0 1038.2 L1089.5 1038.2 L1091.0 1038.3 L1092.5 1038.3 L1094.0 1038.3 L1095.5 1038.3 L1097.0 1038.3 L1098.5 1038.3 L1100.0 1038.4 L1101.5 1038.4 L1103.0 1038.4 L1104.5 1038.4 L1106.0 1038.4 L1107.5 1038.4 L1109.0 1038.5 L1110.5 1038.5 L1112.0 1038.5 L1113.5 1038.5 L1115.0 1038.5 L1116.5 1038.5 L1118.0 1038.6 L1119.5 1038.6 L1121.0 1038.6 L1122.5 1038.6 L1124.0 1038.6 L1125.5 1038.6 L1127.0 1038.7 L1128.5 1038.7 L1130.0 1038.7 L1131.5 1038.7 L1133.0 1038.7 L1134.5 1038.8 L1136.0 1038.8 L1137.5 1038.8 L1139.0 1038.8 L1140.5 1038.8 L1142.0 1038.8 L1143.5 1038.9 L1145.0 1038.9 L1146.5 1038.9 L1148.0 1038.9 L1149.5 1038.9 L1151.0 1038.9 L1152.5 1039.0 L1154.0 1039.0 L1155.5 1039.0 L1157.0 1039.0 L1158.5 1039.0 L1160.0 1039.0 L1161.5 1039.1 L1163.0 1039.1 L1164.5 1039.1 L1166.0 1039.1 L1167.5 1039.1 L1169.0 1039.1 L1170.5 1039.2 L1172.0 1039.2 L1173.5 1039.2 L1175.0 1039.2 L1176.5 1039.2 L1178.0 1039.3 L1179.5 1039.3 L1181.0 1039.3 L1182.5 1039.3 L1184.0 1039.3 L1185.5 1039.3 L1187.0 1039.4 L1188.5 1039.4 L1190.0 1039.4 L1191.5 1039.4 L1193.0 1039.4 L1194.5 1039.4 L1196.0 1039.5 L1197.5 1039.5 L1199.0 1039.5 L1200.5 1039.5 L1202.0 1039.5 L1203.5 1039.5 L1205.0 1039.6 L1206.5 1039.6 L1208.0 1039.6 L1209.5 1039.6 L1211.0 1039.6 L1212.5 1039.7 L1214.0 1039.7 L1215.5 1039.7 L1217.0 1039.7 L1218.5 1039.7 L1220.0 1039.7 L1221.5 1039.8 L1223.0 1039.8 L1224.5 1039.8 L1226.0 1039.8 L1227.5 1039.8 L1229.0 1039.9 L1230.5 1039.9 L1232.0 1039.9 L1233.5 1039.9 L1235.0 1039.9 L1236.5 1039.9 L1238.0 1040.0 L1239.5 1040.0 L1241.0 1040.0 L1242.5 1040.0 L1244.0 1040.0 L1245.5 1040.1 L1247.0 1040.1 L1248.5 1040.1 L1250.0 1040.1 L1251.5 1040.1 L1253.0 1040.1 L1254.5 1040.2 L1256.0 1040.2 L1257.5 1040.2 L1259.0 1040.2 L1260.5 1040.2 L1262.0 1040.3 L1263.5 1040.3 L1265.0 1040.3 L1266.5 1040.3 L1268.0 1040.3 L1269.5 1040.3 L1271.0 1040.4 L1272.5 1040.4 L1274.0 1040.4 L1275.5 1040.4 L1277.0 1040.4 L1278.5 1040.5 L1280.0 1040.5 L1281.5 1040.5 L1283.0 1040.5 L1284.5 1040.5 L1286.0 1040.6 L1287.5 1040.6 L1289.0 1040.6 L1290.5 1040.6 L1292.0 1040.6 L1293.5 1040.7 L1295.0 1040.7 L1296.5 1040.7 L1297.0 1040.7 L1298.0 1040.7 L1299.5 1040.7 L1301.0 1040.8 L1302.5 1040.8 L1304.0 1040.8 L1305.5 1040.8 L1307.0 1040.8 L1308.5 1040.8 L1310.0 1040.9 L1311.5 1040.9 L1313.0 1040.9 L1314.5 1040.9 L1316.0 1040.9 L1317.5 1041.0 L1319.0 1041.0 L1320.5 1041.0 L1322.0 1041.0 L1323.5 1041.0 L1325.0 1041.1 L1326.5 1041.1 L1328.0 1041.1 L1329.5 1041.1 L1331.0 1041.1 L1332.5 1041.2 L1334.0 1041.2 L1335.5 1041.2 L1337.0 1041.2 L1338.5 1041.2 L1340.0 1041.2 L1341.5 1041.3 L1343.0 1041.3 L1344.5 1041.3 L1346.0 1041.3 L1347.5 1041.3 L1349.0 1041.4 L1350.5 1041.4 L1352.0 1041.4 L1353.5 1041.4 L1355.0 1041.4 L1356.5 1041.5 L1358.0 1041.5 L1359.5 1041.5 L1361.0 1041.5 L1362.5 1041.5 L1364.0 1041.6 L1365.5 1041.6 L1367.0 1041.6 L1368.5 1041.6 L1370.0 1041.6 L1371.5 1041.7 L1373.0 1041.7 L1374.5 1041.7 L1376.0 1041.7 L1377.5 1041.7 L1379.0 1041.8 L1380.5 1041.8 L1382.0 1041.8 L1383.5 1041.8 L1385.0 1041.8 L1386.5 1041.9 L1388.0 1041.9 L1389.5 1041.9 L1391.0 1041.9 L1392.5 1041.9 L1394.0 1042.0 L1395.5 1042.0 L1397.0 1042.0 L1398.5 1042.0 L1400.0 1042.1 L1401.5 1042.1 L1403.0 1042.1 L1404.5 1042.1 L1406.0 1042.1 L1407.5 1042.2 L1409.0 1042.2 L1410.5 1042.2 L1412.0 1042.2 L1413.5 1042.3 L1415.0 1042.3 L1416.5 1042.3 L1418.0 1042.3 L1419.5 1042.4 L1421.0 1042.4 L1422.5 1042.4 L1424.0 1042.4 L1425.5 1042.5 L1427.0 1042.5 L1428.5 1042.5 L1430.0 1042.5 L1431.5 1042.6 L1433.0 1042.6 L1434.5 1042.6 L1436.0 1042.6 L1437.5 1042.7 L1439.0 1042.7 L1440.5 1042.7 L1442.0 1042.7 L1443.5 1042.8 L1445.0 1042.8 L1445.8 1042.8 L1446.5 1042.8 L1448.0 1042.8 L1449.5 1042.9 L1451.0 1042.9 L1452.5 1042.9 L1454.0 1042.9 L1455.5 1043.0 L1457.0 1043.0 L1458.5 1043.0 L1460.0 1043.1 L1461.5 1043.1 L1463.0 1043.1 L1464.5 1043.1 L1466.0 1043.2 L1467.5 1043.2 L1469.0 1043.2 L1470.5 1043.2 L1472.0 1043.3 L1473.5 1043.3 L1475.0 1043.3 L1476.5 1043.3 L1478.0 1043.4 L1479.5 1043.4 L1481.0 1043.4 L1482.5 1043.4 L1484.0 1043.5 L1485.5 1043.5 L1487.0 1043.5 L1488.5 1043.5 L1490.0 1043.6 L1491.5 1043.6 L1493.0 1043.6 L1494.5 1043.7 L1496.0 1043.7 L1497.5 1043.7 L1499.0 1043.7 L1500.5 1043.8 L1502.0 1043.8 L1503.5 1043.8 L1505.0 1043.9 L1506.5 1043.9 L1508.0 1043.9 L1509.5 1043.9 L1511.0 1044.0 L1512.5 1044.0 L1514.0 1044.0 L1515.5 1044.1 L1517.0 1044.1 L1518.5 1044.1 L1520.0 1044.2 L1521.5 1044.2 L1523.0 1044.2 L1524.5 1044.3 L1526.0 1044.3 L1527.5 1044.3 L1529.0 1044.4 L1530.5 1044.4 L1532.0 1044.4 L1533.5 1044.5 L1535.0 1044.5 L1536.5 1044.5 L1538.0 1044.6 L1539.5 1044.6 L1541.0 1044.7 L1542.5 1044.7 L1544.0 1044.7 L1545.5 1044.8 L1547.0 1044.8 L1548.5 1044.9 L1550.0 1044.9 L1551.5 1044.9 L1553.0 1045.0 L1554.5 1045.0 L1556.0 1045.1 L1557.5 1045.1 L1559.0 1045.2 L1560.5 1045.2 L1562.0 1045.3 L1563.5 1045.3 L1565.0 1045.4 L1566.5 1045.4 L1568.0 1045.5 L1569.5 1045.5 L1571.0 1045.6 L1572.5 1045.6 L1574.0 1045.7 L1575.5 1045.7 L1577.0 1045.8 L1578.5 1045.8 L1580.0 1045.9 L1581.5 1045.9 L1583.0 1046.0 L1584.5 1046.0 L1586.0 1046.1 L1587.5 1046.2 L1589.0 1046.2 L1590.5 1046.3 L1592.0 1046.4 L1593.5 1046.4 L1595.0 1046.5 L1596.5 1046.5 L1598.0 1046.6 L1599.5 1046.7 L1600.0 1046.7 L1601.0 1046.7 L1602.5 1046.8 L1604.0 1046.9 L1605.5 1047.0 L1607.0 1047.1 L1608.5 1047.2 L1610.0 1047.3 L1611.5 1047.5 L1613.0 1047.6 L1614.5 1047.7 L1616.0 1047.9 L1617.5 1048.0 L1619.0 1048.1 L1620.5 1048.3 L1622.0 1048.5 L1623.5 1048.6 L1625.0 1048.8 L1626.5 1049.0 L1628.0 1049.1 L1629.5 1049.3 L1631.0 1049.5 L1632.5 1049.7 L1634.0 1049.8 L1635.5 1050.0 L1637.0 1050.2 L1638.5 1050.4 L1640.0 1050.6 L1641.5 1050.8 L1643.0 1050.9 L1644.5 1051.1 L1646.0 1051.3 L1647.5 1051.5 L1649.0 1051.7 L1650.5 1051.8 L1652.0 1052.0 L1653.5 1052.2 L1655.0 1052.4 L1656.5 1052.6 L1658.0 1052.8 L1659.5 1053.0 L1661.0 1053.2 L1662.5 1053.4 L1664.0 1053.6 L1665.5 1053.8 L1667.0 1054.0 L1668.5 1054.2 L1670.0 1054.5 L1671.5 1054.7 L1673.0 1054.9 L1674.5 1055.2 L1676.0 1055.4 L1677.5 1055.6 L1679.0 1055.9 L1680.5 1056.1 L1682.0 1056.4 L1683.5 1056.6 L1685.0 1056.9 L1686.5 1057.2 L1688.0 1057.4 L1689.5 1057.7 L1691.0 1058.0 L1692.0 1058.2 L1692.5 1058.3 L1694.0 1058.6 L1695.5 1058.9 L1697.0 1059.2 L1698.5 1059.6 L1700.0 1059.9 L1701.5 1060.3 L1703.0 1060.6 L1704.5 1061.0 L1706.0 1061.4 L1707.5 1061.8 L1709.0 1062.2 L1710.5 1062.6 L1712.0 1063.0 L1713.5 1063.4 L1715.0 1063.9 L1716.5 1064.3 L1718.0 1064.7 L1719.5 1065.2 L1721.0 1065.6 L1722.5 1066.1 L1724.0 1066.6 L1725.5 1067.0 L1726.6 1067.4 L1727.0 1067.5 L1728.5 1068.0 L1730.0 1068.5 L1731.5 1069.0 L1733.0 1069.5 L1734.5 1070.0 L1736.0 1070.6 L1737.5 1071.1 L1739.0 1071.7 L1740.5 1072.2 L1742.0 1072.8 L1743.5 1073.4 L1745.0 1074.0 L1746.5 1074.6 L1748.0 1075.2 L1749.5 1075.8 L1751.0 1076.5 L1752.5 1077.1 L1754.0 1077.8 L1755.5 1078.5 L1757.0 1079.2 L1758.5 1079.9 L1760.0 1080.7 L1761.1 1081.2 L1761.5 1081.4 L1763.0 1082.2 L1764.5 1083.0 L1766.0 1083.9 L1767.5 1084.8 L1769.0 1085.8 L1770.5 1086.8 L1772.0 1087.8 L1773.5 1088.8 L1775.0 1089.9 L1776.5 1090.9 L1778.0 1091.9 L1779.5 1093.0 L1781.0 1094.0 L1782.5 1095.0 L1784.0 1096.0 L1784.1 1096.1 L1785.5 1097.0 L1787.0 1098.1 L1788.5 1099.1 L1790.0 1100.2 L1791.5 1101.3 L1793.0 1102.3 L1794.5 1103.3 L1796.0 1104.2 L1797.5 1105.1 L1797.9 1105.3 L1799.0 1105.9 L1800.5 1106.7 L1802.0 1107.5 L1803.5 1108.2 L1805.0 1108.9 L1806.5 1109.3 L1807.1 1109.5 L1808.0 1109.7 L1809.5 1110.0 L1811.0 1110.3 L1812.5 1110.5 L1814.0 1110.6 L1815.5 1110.5 L1817.0 1110.2 L1818.5 1109.7 L1820.0 1109.2 L1820.9 1108.8 L1821.5 1108.5 L1823.0 1107.4 L1824.5 1106.0 L1826.0 1104.2 L1827.5 1102.3 L1827.8 1101.9 L1829.0 1100.1 L1830.5 1097.3 L1832.0 1094.1 L1833.5 1090.7 L1834.7 1088.1 L1835.0 1087.4 L1836.5 1084.0 L1838.0 1080.3 L1839.5 1076.7 L1841.0 1073.3 L1841.6 1072.0 L1842.5 1070.1 L1844.0 1067.0 L1845.5 1064.0 L1847.0 1061.4 L1848.5 1059.3 L1850.0 1057.6 L1851.5 1056.1 L1853.0 1054.7 L1854.5 1053.6 L1856.0 1052.7 L1856.6 1052.4 L1857.5 1052.0 L1859.0 1051.4 L1860.5 1050.9 L1862.0 1050.4 L1863.5 1050.1 L1865.0 1049.8 L1866.5 1049.6 L1866.9 1049.6 L1868.0 1049.6 L1869.5 1049.5 L1871.0 1049.5 L1872.5 1049.4 L1874.0 1049.4 L1875.5 1049.3 L1877.0 1049.3 L1878.5 1049.3 L1880.0 1049.3 L1881.5 1049.2 L1883.0 1049.2 L1884.5 1049.2 L1886.0 1049.2 L1887.5 1049.2 L1887.6 1049.2 L1889.0 1049.2 L1890.5 1049.2 L1892.0 1049.2 L1893.5 1049.2 L1895.0 1049.2 L1896.5 1049.2 L1898.0 1049.2 L1899.5 1049.2 L1901.0 1049.2 L1902.5 1049.2 L1904.0 1049.2 L1905.5 1049.2 L1907.0 1049.2 L1908.5 1049.2 L1910.0 1049.2 L1911.5 1049.2 L1913.0 1049.2 L1914.5 1049.2 L1916.0 1049.2 L1917.5 1049.2 L1919.0 1049.2 L1920.5 1049.2 L1922.0 1049.2 L1923.5 1049.2 L1925.0 1049.2 L1926.5 1049.2 L1928.0 1049.2 L1929.5 1049.2 L1931.0 1049.2 L1932.5 1049.2 L1934.0 1049.2 L1935.5 1049.2 L1937.0 1049.2 L1938.5 1049.2 L1940.0 1049.2 L1941.5 1049.2 L1943.0 1049.2 L1944.5 1049.2 L1946.0 1049.2 L1947.5 1049.2 L1949.0 1049.2 L1950.5 1049.2 L1952.0 1049.2 L1953.5 1049.3 L1955.0 1049.3 L1956.5 1049.3 L1958.0 1049.3 L1959.5 1049.3 L1961.0 1049.3 L1962.5 1049.3 L1964.0 1049.3 L1965.5 1049.3 L1967.0 1049.3 L1968.5 1049.3 L1970.0 1049.3 L1971.5 1049.3 L1973.0 1049.3 L1974.5 1049.3 L1976.0 1049.3 L1977.5 1049.3 L1979.0 1049.3 L1980.5 1049.3 L1982.0 1049.4 L1983.5 1049.4 L1985.0 1049.4 L1986.5 1049.4 L1988.0 1049.4 L1989.5 1049.4 L1991.0 1049.4 L1992.5 1049.4 L1994.0 1049.4 L1995.5 1049.4 L1997.0 1049.4 L1998.5 1049.5 L2000.0 1049.5 L2001.5 1049.5 L2003.0 1049.5 L2004.5 1049.5 L2006.0 1049.5 L2007.5 1049.5 L2009.0 1049.5 L2010.5 1049.5 L2012.0 1049.6 L2013.5 1049.6 L2015.0 1049.6 L2016.5 1049.6 L2018.0 1049.6 L2019.5 1049.6 L2021.0 1049.6 L2022.5 1049.7 L2024.0 1049.7 L2025.5 1049.7 L2027.0 1049.7 L2028.5 1049.7 L2030.0 1049.7 L2031.5 1049.8 L2033.0 1049.8 L2034.5 1049.8 L2036.0 1049.8 L2037.5 1049.8 L2039.0 1049.8 L2040.5 1049.9 L2042.0 1049.9 L2043.5 1049.9 L2045.0 1049.9 L2046.5 1049.9 L2048.0 1050.0 L2049.5 1050.0 L2051.0 1050.0 L2052.5 1050.0 L2054.0 1050.1 L2055.5 1050.1 L2057.0 1050.1" fill="none" stroke="#F14040" stroke-width="8" stroke-linejoin="round"/>
<path d="M176.0 899.6 L177.5 899.6 L179.0 899.6 L180.5 899.5 L182.0 899.5 L183.5 899.4 L185.0 899.3 L186.5 899.2 L188.0 899.1 L189.5 899.0 L191.0 898.9 L191.6 898.9 L192.5 898.8 L194.0 898.7 L195.5 898.5 L197.0 898.2 L198.5 897.9 L200.0 897.6 L201.5 897.3 L203.0 897.0 L204.5 896.7 L206.0 896.3 L207.5 896.0 L209.0 895.7 L210.5 895.4 L212.0 895.2 L213.1 895.0 L213.5 894.9 L215.0 894.7 L216.5 894.5 L218.0 894.3 L219.5 894.1 L221.0 893.9 L222.5 893.7 L224.0 893.6 L225.5 893.4 L227.0 893.2 L228.5 893.0 L230.0 892.8 L231.5 892.7 L233.0 892.5 L234.5 892.4 L236.0 892.2 L237.5 892.1 L239.0 891.9 L240.5 891.8 L242.0 891.7 L243.5 891.5 L245.0 891.4 L245.5 891.4 L246.5 891.3 L248.0 891.2 L249.5 891.1 L251.0 891.0 L252.5 890.9 L254.0 890.8 L255.5 890.7 L257.0 890.6 L258.5 890.5 L260.0 890.4 L261.5 890.3 L263.0 890.2 L264.5 890.1 L266.0 890.1 L267.5 890.0 L269.0 889.9 L270.5 889.9 L272.0 889.8 L273.5 889.8 L275.0 889.7 L276.5 889.7 L277.9 889.7 L278.0 889.7 L279.5 889.7 L281.0 889.7 L282.5 889.7 L284.0 889.7 L285.5 889.7 L287.0 889.7 L288.5 889.6 L290.0 889.6 L291.5 889.6 L293.0 889.6 L294.5 889.6 L296.0 889.6 L297.5 889.6 L299.0 889.6 L300.5 889.6 L302.0 889.6 L303.5 889.6 L305.0 889.6 L306.5 889.6 L308.0 889.6 L309.5 889.6 L311.0 889.6 L312.5 889.6 L314.0 889.6 L315.5 889.6 L317.0 889.6 L318.5 889.6 L320.0 889.6 L321.5 889.6 L323.0 889.6 L324.5 889.6 L326.0 889.6 L327.5 889.6 L329.0 889.6 L330.5 889.6 L332.0 889.5 L333.5 889.5 L335.0 889.5 L336.5 889.5 L338.0 889.5 L339.5 889.5 L341.0 889.5 L342.5 889.5 L342.6 889.5 L344.0 889.5 L345.5 889.5 L347.0 889.5 L348.5 889.4 L350.0 889.4 L351.5 889.4 L353.0 889.3 L354.5 889.3 L356.0 889.3 L357.5 889.2 L359.0 889.2 L360.5 889.1 L362.0 889.1 L363.5 889.0 L365.0 889.0 L366.5 888.9 L368.0 888.9 L369.5 888.8 L371.0 888.7 L372.5 888.7 L374.0 888.6 L375.5 888.6 L377.0 888.5 L378.5 888.5 L380.0 888.4 L381.5 888.3 L383.0 888.3 L384.5 888.2 L386.0 888.2 L387.5 888.1 L389.0 888.1 L390.5 888.0 L392.0 888.0 L393.5 887.9 L395.0 887.9 L396.5 887.9 L398.0 887.8 L399.5 887.8 L401.0 887.8 L402.5 887.7 L404.0 887.7 L405.5 887.7 L407.0 887.7 L407.3 887.7 L408.5 887.7 L410.0 887.7 L411.5 887.7 L413.0 887.7 L414.5 887.7 L416.0 887.7 L417.5 887.7 L419.0 887.7 L420.5 887.6 L422.0 887.6 L423.5 887.6 L425.0 887.6 L426.5 887.6 L428.0 887.6 L429.5 887.6 L431.0 887.6 L432.5 887.6 L434.0 887.6 L435.5 887.6 L437.0 887.6 L438.5 887.6 L440.0 887.6 L441.5 887.6 L443.0 887.6 L444.5 887.6 L446.0 887.6 L447.5 887.6 L449.0 887.6 L450.5 887.6 L452.0 887.5 L453.5 887.5 L455.0 887.5 L456.5 887.5 L458.0 887.5 L459.5 887.5 L461.0 887.5 L462.5 887.5 L464.0 887.5 L465.5 887.5 L467.0 887.5 L468.5 887.5 L470.0 887.5 L471.5 887.5 L473.0 887.5 L474.5 887.5 L476.0 887.5 L477.5 887.5 L479.0 887.5 L480.5 887.5 L482.0 887.5 L483.5 887.5 L485.0 887.5 L486.5 887.5 L488.0 887.5 L489.5 887.5 L491.0 887.5 L492.5 887.5 L493.6 887.5 L494.0 887.5 L495.5 887.5 L497.0 887.5 L498.5 887.5 L500.0 887.5 L501.5 887.5 L503.0 887.5 L504.5 887.5 L506.0 887.5 L507.5 887.5 L509.0 887.5 L510.5 887.5 L512.0 887.5 L513.5 887.5 L515.0 887.5 L516.5 887.5 L518.0 887.6 L519.5 887.6 L521.0 887.6 L522.5 887.6 L524.0 887.6 L525.5 887.6 L527.0 887.6 L528.5 887.6 L530.0 887.6 L531.5 887.6 L533.0 887.6 L534.5 887.7 L536.0 887.7 L537.5 887.7 L539.0 887.7 L540.5 887.7 L542.0 887.7 L543.5 887.7 L545.0 887.7 L546.5 887.8 L548.0 887.8 L549.5 887.8 L551.0 887.8 L552.5 887.8 L554.0 887.8 L555.5 887.9 L557.0 887.9 L558.3 887.9 L558.5 887.9 L560.0 887.9 L561.5 888.0 L563.0 888.0 L564.5 888.1 L566.0 888.2 L567.5 888.3 L569.0 888.4 L570.5 888.6 L572.0 888.7 L573.5 888.9 L575.0 889.0 L576.5 889.2 L578.0 889.4 L579.5 889.5 L581.0 889.7 L581.6 889.8 L582.5 889.9 L584.0 890.2 L585.5 890.5 L587.0 890.8 L588.5 891.2 L590.0 891.6 L591.5 891.9 L593.0 892.3 L594.5 892.7 L596.0 893.0 L596.7 893.2 L597.5 893.4 L599.0 893.7 L600.5 894.1 L602.0 894.5 L603.5 894.9 L605.0 895.2 L606.5 895.5 L608.0 895.7 L609.5 895.8 L609.6 895.8 L611.0 895.8 L612.5 895.9 L614.0 895.9 L615.5 895.9 L617.0 896.0 L618.5 896.0 L620.0 896.0 L621.5 896.1 L623.0 896.1 L624.5 896.1 L626.0 896.1 L627.5 896.2 L629.0 896.2 L630.5 896.2 L632.0 896.2 L633.5 896.2 L635.0 896.2 L636.5 896.2 L638.0 896.3 L639.5 896.3 L641.0 896.3 L642.5 896.3 L644.0 896.3 L645.5 896.3 L647.0 896.3 L648.5 896.3 L650.0 896.3 L651.5 896.4 L653.0 896.4 L654.5 896.4 L656.0 896.4 L657.5 896.4 L659.0 896.4 L660.5 896.4 L662.0 896.4 L663.5 896.5 L665.0 896.5 L666.5 896.5 L667.9 896.5 L668.0 896.5 L669.5 896.5 L671.0 896.5 L672.5 896.6 L674.0 896.6 L675.5 896.6 L677.0 896.6 L678.5 896.6 L680.0 896.7 L681.5 896.7 L683.0 896.7 L684.5 896.7 L686.0 896.7 L687.5 896.8 L689.0 896.8 L690.5 896.8 L692.0 896.8 L693.5 896.9 L695.0 896.9 L696.5 896.9 L698.0 896.9 L699.5 897.0 L701.0 897.0 L702.5 897.0 L704.0 897.0 L705.5 897.0 L707.0 897.1 L708.5 897.1 L710.0 897.1 L711.5 897.1 L713.0 897.2 L714.5 897.2 L716.0 897.2 L717.5 897.2 L719.0 897.2 L720.5 897.3 L722.0 897.3 L723.5 897.3 L725.0 897.3 L726.5 897.3 L728.0 897.3 L729.5 897.4 L731.0 897.4 L732.5 897.4 L734.0 897.4 L735.5 897.4 L737.0 897.4 L738.5 897.4 L740.0 897.5 L741.5 897.5 L743.0 897.5 L744.5 897.5 L746.0 897.5 L747.5 897.5 L749.0 897.5 L750.5 897.5 L752.0 897.5 L753.5 897.5 L754.0 897.5 L755.0 897.5 L756.5 897.5 L758.0 897.5 L759.5 897.5 L761.0 897.5 L762.5 897.5 L764.0 897.5 L765.5 897.4 L767.0 897.4 L768.5 897.4 L770.0 897.4 L771.5 897.4 L773.0 897.3 L774.5 897.3 L775.7 897.3 L776.0 897.3 L777.5 897.3 L779.0 897.2 L780.5 897.1 L782.0 897.1 L783.5 897.0 L785.0 896.8 L786.5 896.7 L788.0 896.6 L788.7 896.5 L789.5 896.4 L791.0 896.2 L792.5 895.8 L794.0 895.4 L795.5 895.0 L797.0 894.4 L797.3 894.3 L798.5 893.7 L800.0 892.8 L801.5 891.7 L803.0 890.3 L804.5 888.8 L805.9 887.2 L806.0 887.1 L807.5 885.1 L809.0 882.8 L810.5 880.0 L812.0 876.8 L813.5 873.2 L815.0 868.6 L816.5 862.8 L818.0 856.0 L818.9 851.6 L819.5 848.4 L821.0 839.0 L822.5 828.4 L823.2 823.5 L824.0 817.7 L825.5 806.2 L827.0 794.8 L827.5 791.2 L828.5 783.8 L830.0 773.1 L831.2 766.4 L831.5 765.1 L833.0 759.4 L834.0 757.1 L834.5 756.4 L836.0 754.8 L836.8 754.5 L837.5 754.8 L839.0 756.7 L839.6 757.8 L840.5 761.6 L842.0 772.4 L842.2 773.9 L843.5 784.9 L845.0 798.2 L845.2 799.8 L846.5 809.1 L848.0 818.9 L849.1 825.7 L849.5 828.1 L851.0 837.2 L852.5 845.4 L853.4 849.4 L854.0 851.7 L855.5 857.0 L857.0 861.6 L858.5 865.6 L859.9 868.8 L860.0 869.0 L861.5 872.0 L863.0 874.7 L864.5 877.1 L866.0 879.1 L867.4 880.7 L867.5 880.8 L869.0 882.2 L870.5 883.6 L872.0 884.8 L873.5 885.9 L875.0 886.8 L876.5 887.6 L878.0 888.2 L878.2 888.3 L879.5 888.7 L881.0 889.2 L882.5 889.7 L884.0 890.1 L885.5 890.4 L887.0 890.8 L888.5 891.1 L890.0 891.3 L891.5 891.6 L893.0 891.8 L894.4 891.9 L894.5 891.9 L896.0 892.0 L897.5 892.2 L899.0 892.3 L900.5 892.4 L902.0 892.5 L903.5 892.6 L905.0 892.7 L906.5 892.8 L908.0 892.9 L909.5 893.0 L911.0 893.1 L912.5 893.1 L914.0 893.2 L915.5 893.3 L917.0 893.3 L918.5 893.4 L920.0 893.5 L921.5 893.5 L923.0 893.6 L924.5 893.6 L926.0 893.7 L926.7 893.7 L927.5 893.7 L929.0 893.8 L930.5 893.8 L932.0 893.9 L933.5 893.9 L935.0 894.0 L936.5 894.0 L938.0 894.1 L939.5 894.1 L941.0 894.2 L942.5 894.2 L944.0 894.3 L945.5 894.3 L947.0 894.4 L948.5 894.4 L950.0 894.5 L951.5 894.5 L953.0 894.6 L954.5 894.6 L956.0 894.6 L957.5 894.7 L959.0 894.7 L960.5 894.8 L962.0 894.8 L963.5 894.8 L965.0 894.9 L966.5 894.9 L968.0 894.9 L969.5 895.0 L971.0 895.0 L972.5 895.1 L974.0 895.1 L975.5 895.1 L977.0 895.2 L978.5 895.2 L980.0 895.2 L981.5 895.3 L983.0 895.3 L984.5 895.3 L986.0 895.3 L987.5 895.4 L989.0 895.4 L990.5 895.4 L992.0 895.5 L993.5 895.5 L995.0 895.5 L996.5 895.6 L998.0 895.6 L999.5 895.6 L1001.0 895.6 L1002.5 895.7 L1004.0 895.7 L1005.5 895.7 L1007.0 895.7 L1008.5 895.8 L1010.0 895.8 L1011.5 895.8 L1013.0 895.9 L1014.5 895.9 L1016.0 895.9 L1017.5 895.9 L1019.0 896.0 L1020.5 896.0 L1022.0 896.0 L1023.5 896.0 L1025.0 896.0 L1026.5 896.1 L1028.0 896.1 L1029.5 896.1 L1031.0 896.1 L1032.5 896.2 L1034.0 896.2 L1035.5 896.2 L1037.0 896.2 L1038.5 896.3 L1040.0 896.3 L1041.5 896.3 L1043.0 896.3 L1044.5 896.3 L1046.0 896.4 L1047.5 896.4 L1049.0 896.4 L1050.5 896.4 L1052.0 896.5 L1053.5 896.5 L1055.0 896.5 L1056.5 896.5 L1058.0 896.5 L1059.5 896.6 L1061.0 896.6 L1062.5 896.6 L1064.0 896.6 L1065.5 896.6 L1067.0 896.7 L1068.5 896.7 L1070.0 896.7 L1071.5 896.7 L1073.0 896.7 L1074.5 896.8 L1076.0 896.8 L1077.5 896.8 L1079.0 896.8 L1080.5 896.8 L1082.0 896.8 L1083.5 896.9 L1085.0 896.9 L1086.5 896.9 L1088.0 896.9 L1089.5 896.9 L1091.0 897.0 L1092.5 897.0 L1094.0 897.0 L1095.5 897.0 L1097.0 897.0 L1098.5 897.0 L1100.0 897.1 L1101.5 897.1 L1103.0 897.1 L1104.5 897.1 L1106.0 897.1 L1107.5 897.1 L1109.0 897.2 L1110.5 897.2 L1112.0 897.2 L1113.5 897.2 L1115.0 897.2 L1116.5 897.2 L1118.0 897.3 L1119.5 897.3 L1121.0 897.3 L1122.5 897.3 L1124.0 897.3 L1125.5 897.3 L1127.0 897.4 L1128.5 897.4 L1130.0 897.4 L1131.5 897.4 L1133.0 897.4 L1134.5 897.4 L1136.0 897.4 L1137.5 897.5 L1139.0 897.5 L1140.5 897.5 L1142.0 897.5 L1143.5 897.5 L1145.0 897.5 L1146.5 897.6 L1148.0 897.6 L1149.5 897.6 L1151.0 897.6 L1152.5 897.6 L1154.0 897.6 L1155.5 897.6 L1157.0 897.7 L1158.5 897.7 L1160.0 897.7 L1161.5 897.7 L1163.0 897.7 L1164.5 897.7 L1166.0 897.7 L1167.5 897.8 L1169.0 897.8 L1170.5 897.8 L1172.0 897.8 L1173.5 897.8 L1175.0 897.8 L1176.5 897.8 L1178.0 897.9 L1179.5 897.9 L1181.0 897.9 L1182.5 897.9 L1184.0 897.9 L1185.5 897.9 L1187.0 898.0 L1188.5 898.0 L1190.0 898.0 L1191.5 898.0 L1193.0 898.0 L1194.5 898.0 L1196.0 898.0 L1197.5 898.1 L1199.0 898.1 L1200.5 898.1 L1202.0 898.1 L1203.5 898.1 L1205.0 898.1 L1206.5 898.1 L1208.0 898.2 L1209.5 898.2 L1211.0 898.2 L1212.5 898.2 L1214.0 898.2 L1215.5 898.2 L1217.0 898.3 L1218.5 898.3 L1220.0 898.3 L1221.5 898.3 L1223.0 898.3 L1224.5 898.3 L1226.0 898.3 L1227.5 898.4 L1229.0 898.4 L1230.5 898.4 L1232.0 898.4 L1233.5 898.4 L1235.0 898.4 L1236.5 898.5 L1238.0 898.5 L1239.5 898.5 L1241.0 898.5 L1242.5 898.5 L1244.0 898.5 L1245.5 898.6 L1247.0 898.6 L1248.5 898.6 L1250.0 898.6 L1251.5 898.6 L1253.0 898.6 L1254.5 898.7 L1256.0 898.7 L1257.5 898.7 L1259.0 898.7 L1260.5 898.7 L1262.0 898.8 L1263.5 898.8 L1265.0 898.8 L1266.5 898.8 L1268.0 898.8 L1269.5 898.8 L1271.0 898.9 L1272.5 898.9 L1274.0 898.9 L1275.5 898.9 L1277.0 898.9 L1278.5 899.0 L1280.0 899.0 L1281.5 899.0 L1283.0 899.0 L1284.5 899.0 L1286.0 899.1 L1287.5 899.1 L1289.0 899.1 L1290.5 899.1 L1292.0 899.1 L1293.5 899.2 L1295.0 899.2 L1296.5 899.2 L1297.0 899.2 L1298.0 899.2 L1299.5 899.2 L1301.0 899.3 L1302.5 899.3 L1304.0 899.3 L1305.5 899.3 L1307.0 899.3 L1308.5 899.4 L1310.0 899.4 L1311.5 899.4 L1313.0 899.4 L1314.5 899.4 L1316.0 899.5 L1317.5 899.5 L1319.0 899.5 L1320.5 899.5 L1322.0 899.6 L1323.5 899.6 L1325.0 899.6 L1326.5 899.6 L1328.0 899.6 L1329.5 899.7 L1331.0 899.7 L1332.5 899.7 L1334.0 899.7 L1335.5 899.8 L1337.0 899.8 L1338.5 899.8 L1340.0 899.8 L1341.5 899.8 L1343.0 899.9 L1344.5 899.9 L1346.0 899.9 L1347.5 899.9 L1349.0 900.0 L1350.5 900.0 L1352.0 900.0 L1353.5 900.0 L1355.0 900.0 L1356.5 900.1 L1358.0 900.1 L1359.5 900.1 L1361.0 900.1 L1362.5 900.2 L1364.0 900.2 L1365.5 900.2 L1367.0 900.2 L1368.5 900.3 L1370.0 900.3 L1371.5 900.3 L1373.0 900.3 L1374.5 900.4 L1376.0 900.4 L1377.5 900.4 L1379.0 900.4 L1380.5 900.5 L1382.0 900.5 L1383.5 900.5 L1385.0 900.5 L1386.5 900.6 L1388.0 900.6 L1389.5 900.6 L1391.0 900.6 L1392.5 900.7 L1394.0 900.7 L1395.5 900.7 L1397.0 900.7 L1398.5 900.8 L1400.0 900.8 L1401.5 900.8 L1403.0 900.8 L1404.5 900.9 L1406.0 900.9 L1407.5 900.9 L1409.0 900.9 L1410.5 901.0 L1412.0 901.0 L1413.5 901.0 L1415.0 901.0 L1416.5 901.1 L1418.0 901.1 L1419.5 901.1 L1421.0 901.1 L1422.5 901.2 L1424.0 901.2 L1425.5 901.2 L1427.0 901.3 L1428.5 901.3 L1430.0 901.3 L1431.5 901.3 L1433.0 901.4 L1434.5 901.4 L1436.0 901.4 L1437.5 901.4 L1439.0 901.5 L1440.5 901.5 L1442.0 901.5 L1443.5 901.6 L1445.0 901.6 L1445.8 901.6 L1446.5 901.6 L1448.0 901.6 L1449.5 901.7 L1451.0 901.7 L1452.5 901.7 L1454.0 901.8 L1455.5 901.8 L1457.0 901.8 L1458.5 901.8 L1460.0 901.9 L1461.5 901.9 L1463.0 901.9 L1464.5 901.9 L1466.0 902.0 L1467.5 902.0 L1469.0 902.0 L1470.5 902.0 L1472.0 902.1 L1473.5 902.1 L1475.0 902.1 L1476.5 902.1 L1478.0 902.2 L1479.5 902.2 L1481.0 902.2 L1482.5 902.2 L1484.0 902.3 L1485.5 902.3 L1487.0 902.3 L1488.5 902.3 L1490.0 902.4 L1491.5 902.4 L1493.0 902.4 L1494.5 902.4 L1496.0 902.5 L1497.5 902.5 L1499.0 902.5 L1500.5 902.5 L1502.0 902.6 L1503.5 902.6 L1505.0 902.6 L1506.5 902.6 L1508.0 902.7 L1509.5 902.7 L1511.0 902.7 L1512.5 902.7 L1514.0 902.8 L1515.5 902.8 L1517.0 902.8 L1518.5 902.8 L1520.0 902.9 L1521.5 902.9 L1523.0 902.9 L1524.5 903.0 L1526.0 903.0 L1527.5 903.0 L1529.0 903.0 L1530.5 903.1 L1532.0 903.1 L1533.5 903.1 L1535.0 903.2 L1536.5 903.2 L1538.0 903.2 L1539.5 903.3 L1541.0 903.3 L1542.5 903.3 L1544.0 903.4 L1545.5 903.4 L1547.0 903.4 L1548.5 903.5 L1550.0 903.5 L1551.5 903.5 L1553.0 903.6 L1554.5 903.6 L1556.0 903.7 L1557.5 903.7 L1559.0 903.7 L1560.5 903.8 L1562.0 903.8 L1563.5 903.9 L1565.0 903.9 L1566.5 903.9 L1568.0 904.0 L1569.5 904.0 L1571.0 904.1 L1572.5 904.1 L1574.0 904.2 L1575.5 904.2 L1577.0 904.3 L1578.5 904.3 L1580.0 904.4 L1581.5 904.4 L1583.0 904.5 L1584.5 904.5 L1586.0 904.6 L1587.5 904.6 L1589.0 904.7 L1590.5 904.7 L1592.0 904.8 L1593.5 904.8 L1595.0 904.9 L1596.5 905.0 L1598.0 905.0 L1599.5 905.1 L1600.0 905.1 L1601.0 905.1 L1602.5 905.2 L1604.0 905.3 L1605.5 905.4 L1607.0 905.5 L1608.5 905.6 L1610.0 905.7 L1611.5 905.8 L1613.0 905.9 L1614.5 906.0 L1616.0 906.1 L1617.5 906.2 L1619.0 906.4 L1620.5 906.5 L1622.0 906.6 L1623.5 906.8 L1625.0 906.9 L1626.5 907.1 L1628.0 907.2 L1629.5 907.4 L1631.0 907.6 L1632.5 907.7 L1634.0 907.9 L1635.5 908.1 L1637.0 908.2 L1638.5 908.4 L1640.0 908.6 L1641.5 908.8 L1643.0 908.9 L1644.5 909.1 L1646.0 909.3 L1647.5 909.5 L1649.0 909.7 L1650.5 909.9 L1652.0 910.1 L1653.5 910.3 L1655.0 910.5 L1656.5 910.8 L1658.0 911.0 L1659.5 911.2 L1661.0 911.5 L1662.5 911.7 L1664.0 912.0 L1665.5 912.3 L1667.0 912.5 L1668.5 912.8 L1670.0 913.1 L1671.5 913.4 L1673.0 913.7 L1674.5 914.0 L1676.0 914.3 L1677.5 914.6 L1679.0 914.9 L1680.5 915.2 L1682.0 915.5 L1683.5 915.9 L1685.0 916.2 L1686.5 916.5 L1688.0 916.9 L1689.5 917.2 L1691.0 917.6 L1692.0 917.8 L1692.5 917.9 L1694.0 918.3 L1695.5 918.7 L1697.0 919.0 L1698.5 919.4 L1700.0 919.8 L1701.5 920.3 L1703.0 920.7 L1704.5 921.1 L1706.0 921.6 L1707.5 922.0 L1709.0 922.5 L1710.5 923.0 L1712.0 923.4 L1713.5 923.9 L1715.0 924.4 L1716.5 924.9 L1718.0 925.5 L1719.5 926.0 L1721.0 926.5 L1722.5 927.1 L1724.0 927.6 L1725.5 928.2 L1726.6 928.6 L1727.0 928.8 L1728.5 929.3 L1730.0 929.9 L1731.5 930.6 L1733.0 931.2 L1734.5 931.8 L1736.0 932.5 L1737.5 933.2 L1739.0 933.9 L1740.5 934.6 L1742.0 935.3 L1743.5 936.0 L1745.0 936.8 L1746.5 937.5 L1748.0 938.3 L1749.5 939.1 L1751.0 939.8 L1752.5 940.6 L1754.0 941.4 L1755.5 942.3 L1757.0 943.1 L1758.5 943.9 L1760.0 944.8 L1761.1 945.4 L1761.5 945.6 L1763.0 946.5 L1764.5 947.4 L1766.0 948.4 L1767.5 949.4 L1769.0 950.4 L1770.5 951.4 L1772.0 952.5 L1773.5 953.5 L1775.0 954.6 L1776.5 955.6 L1778.0 956.7 L1779.5 957.7 L1781.0 958.7 L1782.5 959.8 L1784.0 960.7 L1784.1 960.8 L1785.5 961.7 L1787.0 962.7 L1788.5 963.7 L1790.0 964.7 L1791.5 965.6 L1793.0 966.5 L1794.5 967.4 L1795.6 968.0 L1796.0 968.2 L1797.5 969.0 L1799.0 969.9 L1800.5 970.6 L1802.0 971.1 L1802.5 971.2 L1803.5 971.4 L1805.0 971.6 L1806.5 971.8 L1808.0 971.9 L1808.2 971.9 L1809.5 971.7 L1811.0 971.2 L1812.5 970.5 L1814.0 969.6 L1815.5 968.5 L1817.0 966.9 L1818.5 965.0 L1820.0 962.9 L1820.9 961.5 L1821.5 960.5 L1823.0 957.7 L1824.5 954.4 L1826.0 950.9 L1827.5 947.3 L1827.8 946.6 L1829.0 943.7 L1830.5 939.7 L1832.0 935.7 L1833.5 931.9 L1834.7 929.3 L1835.0 928.7 L1836.5 925.8 L1838.0 923.1 L1839.5 920.7 L1841.0 918.5 L1841.6 917.8 L1842.5 916.7 L1844.0 915.1 L1845.5 913.5 L1847.0 912.2 L1848.5 911.1 L1849.7 910.4 L1850.0 910.3 L1851.5 909.6 L1853.0 908.9 L1854.5 908.3 L1856.0 907.9 L1857.5 907.5 L1859.0 907.2 L1860.0 907.0 L1860.5 906.9 L1862.0 906.8 L1863.5 906.6 L1865.0 906.4 L1866.5 906.3 L1868.0 906.1 L1869.5 906.0 L1871.0 905.9 L1872.5 905.9 L1874.0 905.8 L1875.5 905.8 L1876.1 905.8 L1877.0 905.8 L1878.5 905.8 L1880.0 905.8 L1881.5 905.8 L1883.0 905.8 L1884.5 905.8 L1886.0 905.8 L1887.5 905.8 L1889.0 905.8 L1890.5 905.8 L1892.0 905.8 L1893.5 905.8 L1895.0 905.8 L1896.5 905.8 L1898.0 905.8 L1899.5 905.8 L1901.0 905.8 L1902.5 905.8 L1904.0 905.8 L1905.5 905.8 L1907.0 905.8 L1908.5 905.8 L1910.0 905.8 L1911.5 905.8 L1913.0 905.8 L1914.5 905.8 L1916.0 905.8 L1917.5 905.8 L1919.0 905.8 L1920.5 905.8 L1922.0 905.8 L1923.5 905.8 L1925.0 905.8 L1926.5 905.8 L1928.0 905.8 L1929.5 905.8 L1931.0 905.8 L1932.5 905.8 L1934.0 905.8 L1935.5 905.8 L1937.0 905.8 L1938.5 905.8 L1940.0 905.8 L1941.5 905.8 L1943.0 905.8 L1944.5 905.8 L1946.0 905.8 L1947.5 905.8 L1949.0 905.8 L1950.5 905.8 L1952.0 905.8 L1953.5 905.8 L1955.0 905.8 L1956.5 905.8 L1958.0 905.8 L1959.5 905.8 L1961.0 905.9 L1962.5 905.9 L1964.0 905.9 L1965.5 905.9 L1967.0 905.9 L1968.5 905.9 L1970.0 905.9 L1971.5 905.9 L1973.0 905.9 L1974.5 905.9 L1976.0 905.9 L1977.5 905.9 L1979.0 905.9 L1980.5 905.9 L1982.0 905.9 L1983.5 905.9 L1985.0 905.9 L1986.5 905.9 L1988.0 905.9 L1989.5 905.9 L1991.0 905.9 L1992.5 905.9 L1994.0 905.9 L1995.5 905.9 L1997.0 905.9 L1998.5 906.0 L2000.0 906.0 L2001.5 906.0 L2003.0 906.0 L2004.5 906.0 L2006.0 906.0 L2007.5 906.0 L2009.0 906.0 L2010.5 906.0 L2012.0 906.0 L2013.5 906.0 L2015.0 906.0 L2016.5 906.0 L2018.0 906.0 L2019.5 906.0 L2021.0 906.1 L2022.5 906.1 L2024.0 906.1 L2025.5 906.1 L2027.0 906.1 L2028.5 906.1 L2030.0 906.1 L2031.5 906.1 L2033.0 906.1 L2034.5 906.1 L2036.0 906.1 L2037.5 906.2 L2039.0 906.2 L2040.5 906.2 L2042.0 906.2 L2043.5 906.2 L2045.0 906.2 L2046.5 906.2 L2048.0 906.2 L2049.5 906.2 L2051.0 906.3 L2052.5 906.3 L2054.0 906.3 L2055.5 906.3 L2057.0 906.3" fill="none" stroke="#1A6FDF" stroke-width="8" stroke-linejoin="round"/>
<path d="M176.0 652.8 L177.5 652.8 L179.0 652.8 L180.5 652.8 L182.0 652.9 L183.5 652.9 L185.0 652.9 L186.5 652.9 L188.0 652.9 L189.5 652.9 L191.0 653.0 L192.5 653.0 L194.0 653.0 L195.5 653.0 L197.0 653.0 L198.5 653.0 L200.0 653.0 L201.5 653.1 L203.0 653.1 L204.5 653.1 L206.0 653.1 L207.5 653.1 L209.0 653.1 L210.5 653.2 L212.0 653.2 L213.5 653.2 L215.0 653.2 L216.5 653.2 L218.0 653.2 L219.5 653.2 L221.0 653.3 L222.5 653.3 L224.0 653.3 L225.5 653.3 L227.0 653.3 L228.5 653.3 L230.0 653.3 L231.5 653.4 L233.0 653.4 L234.5 653.4 L236.0 653.4 L237.5 653.4 L239.0 653.4 L240.5 653.4 L242.0 653.4 L243.5 653.5 L245.0 653.5 L246.5 653.5 L248.0 653.5 L249.5 653.5 L251.0 653.5 L252.5 653.5 L254.0 653.6 L255.5 653.6 L257.0 653.6 L258.5 653.6 L260.0 653.6 L261.5 653.6 L263.0 653.6 L264.5 653.6 L266.0 653.7 L267.5 653.7 L269.0 653.7 L270.5 653.7 L272.0 653.7 L273.5 653.7 L275.0 653.7 L276.5 653.7 L278.0 653.7 L279.5 653.8 L281.0 653.8 L282.5 653.8 L284.0 653.8 L285.5 653.8 L287.0 653.8 L288.5 653.8 L290.0 653.8 L291.5 653.8 L293.0 653.9 L294.5 653.9 L296.0 653.9 L297.5 653.9 L299.0 653.9 L299.4 653.9 L300.5 653.9 L302.0 653.9 L303.5 653.9 L305.0 653.9 L306.5 653.9 L308.0 654.0 L309.5 654.0 L311.0 654.0 L312.5 654.0 L314.0 654.0 L315.5 654.0 L317.0 654.0 L318.5 654.0 L320.0 654.0 L321.5 654.1 L323.0 654.1 L324.5 654.1 L326.0 654.1 L327.5 654.1 L329.0 654.1 L330.5 654.1 L332.0 654.1 L333.5 654.2 L335.0 654.2 L336.5 654.2 L338.0 654.2 L339.5 654.2 L341.0 654.2 L342.5 654.2 L344.0 654.2 L345.5 654.2 L347.0 654.2 L348.5 654.3 L350.0 654.3 L351.5 654.3 L353.0 654.3 L354.5 654.3 L356.0 654.3 L357.5 654.3 L359.0 654.3 L360.5 654.3 L362.0 654.3 L363.5 654.4 L365.0 654.4 L366.5 654.4 L368.0 654.4 L369.5 654.4 L371.0 654.4 L372.5 654.4 L374.0 654.4 L375.5 654.4 L377.0 654.4 L378.5 654.4 L380.0 654.4 L381.5 654.4 L383.0 654.5 L384.5 654.5 L386.0 654.5 L387.5 654.5 L389.0 654.5 L390.5 654.5 L392.0 654.5 L393.5 654.5 L395.0 654.5 L396.5 654.5 L398.0 654.5 L399.5 654.5 L401.0 654.5 L402.5 654.5 L404.0 654.5 L405.5 654.5 L407.0 654.5 L407.3 654.5 L408.5 654.5 L410.0 654.5 L411.5 654.5 L413.0 654.5 L414.5 654.5 L416.0 654.5 L417.5 654.5 L419.0 654.5 L420.5 654.5 L422.0 654.5 L423.5 654.5 L425.0 654.5 L426.5 654.5 L428.0 654.5 L429.5 654.5 L431.0 654.5 L432.5 654.5 L434.0 654.5 L435.5 654.5 L437.0 654.5 L438.5 654.5 L440.0 654.5 L441.5 654.4 L443.0 654.4 L444.5 654.4 L446.0 654.4 L447.5 654.4 L449.0 654.4 L450.5 654.4 L452.0 654.4 L453.5 654.4 L455.0 654.4 L456.5 654.4 L458.0 654.4 L459.5 654.4 L461.0 654.4 L462.5 654.4 L464.0 654.4 L465.5 654.4 L467.0 654.4 L468.5 654.4 L470.0 654.4 L471.5 654.3 L473.0 654.3 L474.5 654.3 L476.0 654.3 L477.5 654.3 L479.0 654.3 L480.5 654.3 L482.0 654.3 L483.5 654.3 L485.0 654.3 L486.5 654.3 L488.0 654.3 L489.5 654.3 L491.0 654.3 L492.5 654.3 L494.0 654.3 L495.5 654.3 L497.0 654.2 L498.5 654.2 L500.0 654.2 L501.5 654.2 L503.0 654.2 L504.5 654.2 L506.0 654.2 L507.5 654.2 L509.0 654.2 L510.5 654.2 L512.0 654.2 L513.5 654.2 L515.0 654.2 L516.5 654.2 L518.0 654.2 L519.5 654.2 L521.0 654.2 L522.5 654.2 L524.0 654.2 L525.5 654.1 L527.0 654.1 L528.5 654.1 L530.0 654.1 L531.5 654.1 L533.0 654.1 L534.5 654.1 L536.0 654.1 L537.5 654.1 L539.0 654.1 L540.5 654.1 L542.0 654.1 L543.5 654.1 L545.0 654.1 L546.5 654.1 L548.0 654.1 L549.5 654.1 L551.0 654.1 L552.5 654.1 L554.0 654.1 L555.5 654.1 L557.0 654.1 L558.3 654.1 L558.5 654.1 L560.0 654.1 L561.5 654.1 L563.0 654.1 L564.5 654.2 L566.0 654.2 L567.5 654.2 L569.0 654.3 L570.5 654.3 L572.0 654.4 L573.5 654.5 L575.0 654.5 L576.5 654.6 L578.0 654.7 L579.5 654.8 L581.0 654.9 L581.6 654.9 L582.5 655.0 L584.0 655.1 L585.5 655.3 L587.0 655.5 L588.5 655.8 L590.0 656.0 L591.5 656.3 L593.0 656.6 L594.5 656.9 L596.0 657.2 L596.7 657.3 L597.5 657.4 L599.0 657.7 L600.5 658.1 L602.0 658.4 L603.5 658.8 L605.0 659.1 L606.5 659.3 L608.0 659.6 L609.5 659.7 L609.6 659.7 L611.0 659.8 L612.5 659.9 L614.0 659.9 L615.5 660.0 L617.0 660.1 L618.5 660.1 L620.0 660.1 L621.5 660.1 L623.0 660.1 L624.5 660.1 L626.0 660.1 L627.5 660.1 L629.0 660.1 L630.5 660.1 L632.0 660.1 L633.5 660.1 L635.0 660.1 L636.5 660.1 L638.0 660.1 L639.5 660.1 L641.0 660.1 L642.5 660.1 L644.0 660.1 L645.5 660.1 L647.0 660.1 L648.5 660.1 L650.0 660.1 L651.5 660.1 L653.0 660.1 L654.5 660.1 L656.0 660.1 L657.5 660.1 L659.0 660.1 L660.5 660.1 L662.0 660.1 L663.5 660.1 L665.0 660.0 L666.5 660.0 L668.0 660.0 L669.5 660.0 L671.0 660.0 L672.5 660.0 L674.0 660.0 L675.5 660.0 L677.0 660.0 L678.5 660.0 L680.0 660.0 L681.5 660.0 L683.0 660.0 L684.5 660.0 L686.0 660.0 L687.5 660.0 L689.0 660.0 L690.5 660.0 L692.0 660.0 L693.5 660.0 L695.0 659.9 L696.5 659.9 L698.0 659.9 L699.5 659.9 L701.0 659.9 L702.5 659.9 L704.0 659.9 L705.5 659.9 L707.0 659.9 L708.5 659.9 L710.0 659.9 L711.5 659.9 L713.0 659.8 L714.5 659.8 L716.0 659.8 L717.5 659.8 L719.0 659.8 L720.5 659.8 L722.0 659.8 L723.5 659.8 L725.0 659.8 L726.5 659.8 L728.0 659.7 L729.5 659.7 L731.0 659.7 L732.5 659.7 L734.0 659.7 L735.5 659.7 L737.0 659.7 L738.5 659.7 L740.0 659.6 L741.5 659.6 L743.0 659.6 L744.5 659.6 L746.0 659.6 L747.5 659.6 L749.0 659.6 L750.5 659.5 L752.0 659.5 L753.5 659.5 L754.0 659.5 L755.0 659.5 L756.5 659.4 L758.0 659.4 L759.5 659.3 L761.0 659.3 L762.5 659.2 L764.0 659.1 L765.5 658.9 L767.0 658.8 L768.5 658.7 L770.0 658.6 L771.5 658.4 L773.0 658.3 L774.5 658.1 L775.7 658.0 L776.0 658.0 L777.5 657.8 L779.0 657.6 L780.5 657.4 L782.0 657.2 L783.5 656.9 L785.0 656.6 L786.5 656.3 L788.0 656.0 L788.7 655.8 L789.5 655.6 L791.0 655.2 L792.5 654.7 L794.0 654.1 L795.5 653.5 L797.0 652.8 L797.3 652.6 L798.5 651.9 L800.0 650.9 L801.5 649.6 L803.0 648.2 L804.5 646.6 L805.9 645.0 L806.0 644.9 L807.5 642.9 L809.0 640.5 L810.5 637.7 L812.0 634.5 L813.5 631.0 L815.0 626.8 L816.5 621.6 L818.0 615.6 L818.9 611.6 L819.5 608.7 L821.0 600.1 L822.5 590.4 L823.2 585.7 L824.0 580.1 L825.5 568.6 L827.0 557.0 L827.5 553.3 L828.5 545.7 L830.0 534.5 L831.2 527.5 L831.5 526.1 L833.0 520.2 L834.0 517.8 L834.5 517.1 L836.0 515.7 L836.3 515.6 L837.5 516.4 L838.9 518.8 L839.0 519.0 L840.5 526.9 L841.5 533.9 L842.0 537.4 L843.5 549.5 L844.8 559.8 L845.0 561.3 L846.5 572.0 L848.0 582.0 L848.6 585.7 L849.5 591.1 L851.0 599.7 L852.5 607.2 L853.0 609.4 L854.0 613.5 L855.5 619.1 L857.0 624.1 L858.5 628.1 L858.8 628.8 L860.0 631.3 L861.5 634.1 L863.0 636.6 L864.5 638.7 L866.0 640.4 L866.3 640.7 L867.5 641.9 L869.0 643.2 L870.5 644.4 L872.0 645.5 L873.5 646.5 L875.0 647.4 L876.5 648.1 L877.1 648.3 L878.0 648.6 L879.5 649.2 L881.0 649.7 L882.5 650.1 L884.0 650.6 L885.5 651.0 L887.0 651.3 L888.5 651.7 L890.0 652.0 L891.5 652.2 L893.0 652.4 L894.4 652.6 L894.5 652.6 L896.0 652.8 L897.5 652.9 L899.0 653.1 L900.5 653.2 L902.0 653.3 L903.5 653.5 L905.0 653.6 L906.5 653.7 L908.0 653.8 L909.5 653.9 L911.0 654.0 L912.5 654.1 L914.0 654.2 L915.5 654.3 L917.0 654.3 L918.5 654.4 L920.0 654.5 L921.5 654.5 L923.0 654.6 L924.5 654.6 L926.0 654.7 L926.7 654.7 L927.5 654.7 L929.0 654.8 L930.5 654.8 L932.0 654.8 L933.5 654.9 L935.0 654.9 L936.5 654.9 L938.0 655.0 L939.5 655.0 L941.0 655.1 L942.5 655.1 L944.0 655.1 L945.5 655.1 L947.0 655.2 L948.5 655.2 L950.0 655.2 L951.5 655.3 L953.0 655.3 L954.5 655.3 L956.0 655.3 L957.5 655.4 L959.0 655.4 L960.5 655.4 L962.0 655.4 L963.5 655.5 L965.0 655.5 L966.5 655.5 L968.0 655.5 L969.5 655.5 L971.0 655.6 L972.5 655.6 L974.0 655.6 L975.5 655.6 L977.0 655.6 L978.5 655.7 L980.0 655.7 L981.5 655.7 L983.0 655.7 L984.5 655.7 L986.0 655.7 L987.5 655.8 L989.0 655.8 L990.5 655.8 L992.0 655.8 L993.5 655.8 L995.0 655.8 L996.5 655.9 L998.0 655.9 L999.5 655.9 L1001.0 655.9 L1002.5 655.9 L1004.0 655.9 L1005.5 656.0 L1007.0 656.0 L1008.5 656.0 L1010.0 656.0 L1011.5 656.0 L1013.0 656.0 L1014.5 656.0 L1016.0 656.1 L1017.5 656.1 L1019.0 656.1 L1020.5 656.1 L1022.0 656.1 L1023.5 656.1 L1025.0 656.2 L1026.5 656.2 L1028.0 656.2 L1029.5 656.2 L1031.0 656.2 L1032.5 656.2 L1034.0 656.2 L1035.5 656.3 L1037.0 656.3 L1038.5 656.3 L1040.0 656.3 L1041.5 656.3 L1043.0 656.3 L1044.5 656.3 L1046.0 656.4 L1047.5 656.4 L1049.0 656.4 L1050.5 656.4 L1052.0 656.4 L1053.5 656.4 L1055.0 656.4 L1056.5 656.5 L1058.0 656.5 L1059.5 656.5 L1061.0 656.5 L1062.5 656.5 L1064.0 656.5 L1065.5 656.5 L1067.0 656.5 L1068.5 656.6 L1070.0 656.6 L1071.5 656.6 L1073.0 656.6 L1074.5 656.6 L1076.0 656.6 L1077.5 656.6 L1079.0 656.6 L1080.5 656.7 L1082.0 656.7 L1083.5 656.7 L1085.0 656.7 L1086.5 656.7 L1088.0 656.7 L1089.5 656.7 L1091.0 656.7 L1092.5 656.8 L1094.0 656.8 L1095.5 656.8 L1097.0 656.8 L1098.5 656.8 L1100.0 656.8 L1101.5 656.8 L1103.0 656.8 L1104.5 656.8 L1106.0 656.9 L1107.5 656.9 L1109.0 656.9 L1110.5 656.9 L1112.0 656.9 L1113.5 656.9 L1115.0 656.9 L1116.5 656.9 L1118.0 657.0 L1119.5 657.0 L1121.0 657.0 L1122.5 657.0 L1124.0 657.0 L1125.5 657.0 L1127.0 657.0 L1128.5 657.0 L1130.0 657.0 L1131.5 657.0 L1133.0 657.1 L1134.5 657.1 L1136.0 657.1 L1137.5 657.1 L1139.0 657.1 L1140.5 657.1 L1142.0 657.1 L1143.5 657.1 L1145.0 657.1 L1146.5 657.2 L1148.0 657.2 L1149.5 657.2 L1151.0 657.2 L1152.5 657.2 L1154.0 657.2 L1155.5 657.2 L1157.0 657.2 L1158.5 657.2 L1160.0 657.2 L1161.5 657.3 L1163.0 657.3 L1164.5 657.3 L1166.0 657.3 L1167.5 657.3 L1169.0 657.3 L1170.5 657.3 L1172.0 657.3 L1173.5 657.3 L1175.0 657.3 L1176.5 657.3 L1178.0 657.4 L1179.5 657.4 L1181.0 657.4 L1182.5 657.4 L1184.0 657.4 L1185.5 657.4 L1187.0 657.4 L1188.5 657.4 L1190.0 657.4 L1191.5 657.4 L1193.0 657.5 L1194.5 657.5 L1196.0 657.5 L1197.5 657.5 L1199.0 657.5 L1200.5 657.5 L1202.0 657.5 L1203.5 657.5 L1205.0 657.5 L1206.5 657.5 L1208.0 657.5 L1209.5 657.6 L1211.0 657.6 L1212.5 657.6 L1214.0 657.6 L1215.5 657.6 L1217.0 657.6 L1218.5 657.6 L1220.0 657.6 L1221.5 657.6 L1223.0 657.6 L1224.5 657.6 L1226.0 657.7 L1227.5 657.7 L1229.0 657.7 L1230.5 657.7 L1232.0 657.7 L1233.5 657.7 L1235.0 657.7 L1236.5 657.7 L1238.0 657.7 L1239.5 657.7 L1241.0 657.7 L1242.5 657.8 L1244.0 657.8 L1245.5 657.8 L1247.0 657.8 L1248.5 657.8 L1250.0 657.8 L1251.5 657.8 L1253.0 657.8 L1254.5 657.8 L1256.0 657.8 L1257.5 657.8 L1259.0 657.9 L1260.5 657.9 L1262.0 657.9 L1263.5 657.9 L1265.0 657.9 L1266.5 657.9 L1268.0 657.9 L1269.5 657.9 L1271.0 657.9 L1272.5 657.9 L1274.0 658.0 L1275.5 658.0 L1277.0 658.0 L1278.5 658.0 L1280.0 658.0 L1281.5 658.0 L1283.0 658.0 L1284.5 658.0 L1286.0 658.0 L1287.5 658.0 L1289.0 658.0 L1290.5 658.1 L1292.0 658.1 L1293.5 658.1 L1295.0 658.1 L1296.5 658.1 L1297.0 658.1 L1298.0 658.1 L1299.5 658.1 L1301.0 658.1 L1302.5 658.1 L1304.0 658.1 L1305.5 658.2 L1307.0 658.2 L1308.5 658.2 L1310.0 658.2 L1311.5 658.2 L1313.0 658.2 L1314.5 658.2 L1316.0 658.2 L1317.5 658.2 L1319.0 658.2 L1320.5 658.2 L1322.0 658.2 L1323.5 658.3 L1325.0 658.3 L1326.5 658.3 L1328.0 658.3 L1329.5 658.3 L1331.0 658.3 L1332.5 658.3 L1334.0 658.3 L1335.5 658.3 L1337.0 658.3 L1338.5 658.3 L1340.0 658.3 L1341.5 658.3 L1343.0 658.4 L1344.5 658.4 L1346.0 658.4 L1347.5 658.4 L1349.0 658.4 L1350.5 658.4 L1352.0 658.4 L1353.5 658.4 L1355.0 658.4 L1356.5 658.4 L1358.0 658.4 L1359.5 658.4 L1361.0 658.4 L1362.5 658.4 L1364.0 658.5 L1365.5 658.5 L1367.0 658.5 L1368.5 658.5 L1370.0 658.5 L1371.5 658.5 L1373.0 658.5 L1374.5 658.5 L1376.0 658.5 L1377.5 658.5 L1379.0 658.5 L1380.5 658.5 L1382.0 658.5 L1383.5 658.6 L1385.0 658.6 L1386.5 658.6 L1388.0 658.6 L1389.5 658.6 L1391.0 658.6 L1392.5 658.6 L1394.0 658.6 L1395.5 658.6 L1397.0 658.6 L1398.5 658.6 L1400.0 658.6 L1401.5 658.7 L1403.0 658.7 L1404.5 658.7 L1406.0 658.7 L1407.5 658.7 L1409.0 658.7 L1410.5 658.7 L1412.0 658.7 L1413.5 658.7 L1415.0 658.7 L1416.5 658.8 L1418.0 658.8 L1419.5 658.8 L1421.0 658.8 L1422.5 658.8 L1424.0 658.8 L1425.5 658.8 L1427.0 658.8 L1428.5 658.8 L1430.0 658.9 L1431.5 658.9 L1433.0 658.9 L1434.5 658.9 L1436.0 658.9 L1437.5 658.9 L1439.0 658.9 L1440.5 658.9 L1442.0 659.0 L1443.5 659.0 L1445.0 659.0 L1445.8 659.0 L1446.5 659.0 L1448.0 659.0 L1449.5 659.0 L1451.0 659.1 L1452.5 659.1 L1454.0 659.1 L1455.5 659.1 L1457.0 659.1 L1458.5 659.1 L1460.0 659.2 L1461.5 659.2 L1463.0 659.2 L1464.5 659.2 L1466.0 659.2 L1467.5 659.3 L1469.0 659.3 L1470.5 659.3 L1472.0 659.3 L1473.5 659.3 L1475.0 659.4 L1476.5 659.4 L1478.0 659.4 L1479.5 659.4 L1481.0 659.4 L1482.5 659.5 L1484.0 659.5 L1485.5 659.5 L1487.0 659.5 L1488.5 659.6 L1490.0 659.6 L1491.5 659.6 L1493.0 659.7 L1494.5 659.7 L1496.0 659.7 L1497.5 659.7 L1499.0 659.8 L1500.5 659.8 L1502.0 659.8 L1503.5 659.9 L1505.0 659.9 L1506.5 659.9 L1508.0 659.9 L1509.5 660.0 L1511.0 660.0 L1512.5 660.0 L1514.0 660.1 L1515.5 660.1 L1517.0 660.1 L1518.5 660.2 L1520.0 660.2 L1521.5 660.3 L1523.0 660.3 L1524.5 660.3 L1526.0 660.4 L1527.5 660.4 L1529.0 660.4 L1530.5 660.5 L1532.0 660.5 L1533.5 660.6 L1535.0 660.6 L1536.5 660.6 L1538.0 660.7 L1539.5 660.7 L1541.0 660.8 L1542.5 660.8 L1544.0 660.9 L1545.5 660.9 L1547.0 660.9 L1548.5 661.0 L1550.0 661.0 L1551.5 661.1 L1553.0 661.1 L1554.5 661.2 L1556.0 661.2 L1557.5 661.3 L1559.0 661.3 L1560.5 661.4 L1562.0 661.4 L1563.5 661.5 L1565.0 661.5 L1566.5 661.6 L1568.0 661.6 L1569.5 661.7 L1571.0 661.7 L1572.5 661.8 L1574.0 661.8 L1575.5 661.9 L1577.0 662.0 L1578.5 662.0 L1580.0 662.1 L1581.5 662.1 L1583.0 662.2 L1584.5 662.3 L1586.0 662.3 L1587.5 662.4 L1589.0 662.4 L1590.5 662.5 L1592.0 662.6 L1593.5 662.6 L1595.0 662.7 L1596.5 662.7 L1598.0 662.8 L1599.5 662.9 L1600.0 662.9 L1601.0 662.9 L1602.5 663.0 L1604.0 663.1 L1605.5 663.2 L1607.0 663.3 L1608.5 663.4 L1610.0 663.5 L1611.5 663.6 L1613.0 663.7 L1614.5 663.8 L1616.0 663.9 L1617.5 664.1 L1619.0 664.2 L1620.5 664.3 L1622.0 664.5 L1623.5 664.6 L1625.0 664.8 L1626.5 664.9 L1628.0 665.1 L1629.5 665.2 L1631.0 665.4 L1632.5 665.5 L1634.0 665.7 L1635.5 665.9 L1637.0 666.0 L1638.5 666.2 L1640.0 666.4 L1641.5 666.6 L1643.0 666.7 L1644.5 666.9 L1646.0 667.1 L1647.5 667.3 L1649.0 667.5 L1650.5 667.7 L1652.0 667.9 L1653.5 668.1 L1655.0 668.3 L1656.5 668.5 L1658.0 668.7 L1659.5 669.0 L1661.0 669.2 L1662.5 669.5 L1664.0 669.7 L1665.5 670.0 L1667.0 670.2 L1668.5 670.5 L1670.0 670.7 L1671.5 671.0 L1673.0 671.3 L1674.5 671.6 L1676.0 671.9 L1677.5 672.1 L1679.0 672.4 L1680.5 672.7 L1682.0 673.0 L1683.5 673.3 L1685.0 673.6 L1686.5 673.9 L1688.0 674.3 L1689.5 674.6 L1691.0 674.9 L1692.0 675.1 L1692.5 675.2 L1694.0 675.5 L1695.5 675.9 L1697.0 676.2 L1698.5 676.5 L1700.0 676.9 L1701.5 677.2 L1703.0 677.6 L1704.5 677.9 L1706.0 678.3 L1707.5 678.7 L1709.0 679.1 L1710.5 679.5 L1712.0 679.9 L1713.5 680.3 L1715.0 680.7 L1716.5 681.1 L1718.0 681.6 L1719.5 682.0 L1721.0 682.5 L1722.5 683.0 L1724.0 683.4 L1725.5 683.9 L1726.6 684.3 L1727.0 684.4 L1728.5 685.0 L1730.0 685.5 L1731.5 686.1 L1733.0 686.7 L1734.5 687.3 L1736.0 687.9 L1737.5 688.6 L1739.0 689.2 L1740.5 689.9 L1742.0 690.6 L1743.5 691.3 L1745.0 692.0 L1746.5 692.8 L1748.0 693.5 L1749.5 694.3 L1751.0 695.1 L1752.5 695.9 L1754.0 696.7 L1755.5 697.5 L1757.0 698.3 L1758.5 699.1 L1760.0 699.9 L1761.1 700.5 L1761.5 700.7 L1763.0 701.6 L1764.5 702.5 L1766.0 703.4 L1767.5 704.4 L1769.0 705.3 L1770.5 706.3 L1772.0 707.4 L1773.5 708.4 L1775.0 709.4 L1776.5 710.4 L1778.0 711.4 L1779.5 712.4 L1781.0 713.4 L1782.5 714.4 L1784.0 715.3 L1784.1 715.4 L1785.5 716.3 L1787.0 717.2 L1788.5 718.1 L1790.0 719.0 L1791.5 719.9 L1793.0 720.8 L1794.5 721.7 L1796.0 722.5 L1797.5 723.3 L1797.9 723.5 L1799.0 724.1 L1800.5 724.8 L1802.0 725.6 L1803.5 726.3 L1805.0 726.9 L1806.5 727.4 L1807.1 727.6 L1808.0 727.8 L1809.5 728.2 L1811.0 728.5 L1812.5 728.7 L1814.0 728.8 L1815.5 728.7 L1817.0 728.3 L1818.5 727.9 L1820.0 727.3 L1820.9 726.9 L1821.5 726.6 L1823.0 725.7 L1824.5 724.6 L1826.0 723.2 L1827.5 721.5 L1827.8 721.2 L1829.0 719.5 L1830.5 716.7 L1832.0 713.5 L1833.5 710.1 L1834.7 707.4 L1835.0 706.7 L1836.5 703.3 L1838.0 699.7 L1839.5 696.0 L1841.0 692.5 L1841.6 691.2 L1842.5 689.2 L1844.0 685.9 L1845.5 682.8 L1847.0 679.9 L1848.5 677.4 L1850.0 675.2 L1851.5 673.2 L1853.0 671.5 L1854.5 670.1 L1855.4 669.4 L1856.0 669.0 L1857.5 668.2 L1859.0 667.4 L1860.5 666.7 L1862.0 666.2 L1863.5 665.7 L1864.6 665.5 L1865.0 665.4 L1866.5 665.2 L1868.0 665.0 L1869.5 664.7 L1871.0 664.6 L1872.5 664.4 L1874.0 664.3 L1875.5 664.2 L1877.0 664.1 L1878.4 664.1 L1878.5 664.1 L1880.0 664.1 L1881.5 664.1 L1883.0 664.1 L1884.5 664.1 L1886.0 664.1 L1887.5 664.1 L1889.0 664.1 L1890.5 664.1 L1892.0 664.1 L1893.5 664.1 L1895.0 664.1 L1896.5 664.1 L1898.0 664.1 L1899.5 664.1 L1901.0 664.1 L1902.5 664.1 L1904.0 664.1 L1905.5 664.1 L1907.0 664.1 L1908.5 664.1 L1910.0 664.1 L1911.5 664.1 L1913.0 664.1 L1914.5 664.1 L1916.0 664.1 L1917.5 664.1 L1919.0 664.1 L1920.5 664.1 L1922.0 664.1 L1923.5 664.1 L1925.0 664.1 L1926.5 664.1 L1928.0 664.1 L1929.5 664.1 L1931.0 664.1 L1932.5 664.1 L1934.0 664.1 L1935.5 664.1 L1937.0 664.1 L1938.5 664.1 L1940.0 664.1 L1941.5 664.1 L1943.0 664.1 L1944.5 664.1 L1946.0 664.1 L1947.5 664.1 L1949.0 664.1 L1950.5 664.1 L1952.0 664.1 L1953.5 664.1 L1955.0 664.1 L1956.5 664.1 L1958.0 664.1 L1959.5 664.1 L1961.0 664.1 L1962.5 664.1 L1964.0 664.1 L1965.5 664.1 L1967.0 664.1 L1968.5 664.1 L1970.0 664.1 L1971.5 664.1 L1973.0 664.1 L1974.5 664.1 L1976.0 664.1 L1977.5 664.1 L1979.0 664.1 L1980.5 664.1 L1982.0 664.1 L1983.5 664.1 L1985.0 664.1 L1986.5 664.1 L1988.0 664.1 L1989.5 664.1 L1991.0 664.1 L1992.5 664.1 L1994.0 664.1 L1995.5 664.1 L1997.0 664.1 L1998.5 664.1 L2000.0 664.1 L2001.5 664.1 L2003.0 664.1 L2004.5 664.1 L2006.0 664.1 L2007.5 664.1 L2009.0 664.1 L2010.5 664.1 L2012.0 664.1 L2013.5 664.1 L2015.0 664.1 L2016.5 664.1 L2018.0 664.1 L2019.5 664.1 L2021.0 664.1 L2022.5 664.1 L2024.0 664.1 L2025.5 664.1 L2027.0 664.1 L2028.5 664.1 L2030.0 664.1 L2031.5 664.1 L2033.0 664.1 L2034.5 664.1 L2036.0 664.1 L2037.5 664.1 L2039.0 664.1 L2040.5 664.1 L2042.0 664.1 L2043.5 664.1 L2045.0 664.1 L2046.5 664.1 L2048.0 664.1 L2049.5 664.1 L2051.0 664.1 L2052.5 664.1 L2054.0 664.1 L2055.5 664.1 L2057.0 664.1" fill="none" stroke="#37AD6B" stroke-width="8" stroke-linejoin="round"/>
<path d="M176.0 408.1 L177.5 408.1 L179.0 408.1 L180.5 408.2 L182.0 408.2 L183.5 408.2 L185.0 408.2 L186.5 408.2 L188.0 408.2 L189.5 408.3 L191.0 408.3 L192.5 408.3 L194.0 408.3 L195.5 408.3 L197.0 408.3 L198.5 408.4 L200.0 408.4 L201.5 408.4 L203.0 408.4 L204.5 408.4 L206.0 408.4 L207.5 408.5 L209.0 408.5 L210.5 408.5 L212.0 408.5 L213.5 408.5 L215.0 408.5 L216.5 408.6 L218.0 408.6 L219.5 408.6 L221.0 408.6 L222.5 408.6 L224.0 408.6 L225.5 408.7 L227.0 408.7 L228.5 408.7 L230.0 408.7 L231.5 408.7 L233.0 408.7 L234.5 408.8 L236.0 408.8 L237.5 408.8 L239.0 408.8 L240.5 408.8 L242.0 408.8 L243.5 408.8 L245.0 408.9 L246.5 408.9 L248.0 408.9 L249.5 408.9 L251.0 408.9 L252.5 408.9 L254.0 409.0 L255.5 409.0 L257.0 409.0 L258.5 409.0 L260.0 409.0 L261.5 409.0 L263.0 409.0 L264.5 409.1 L266.0 409.1 L267.5 409.1 L269.0 409.1 L270.5 409.1 L272.0 409.1 L273.5 409.1 L275.0 409.2 L276.5 409.2 L278.0 409.2 L279.5 409.2 L281.0 409.2 L282.5 409.2 L284.0 409.2 L285.5 409.3 L287.0 409.3 L288.5 409.3 L290.0 409.3 L291.5 409.3 L293.0 409.3 L294.5 409.3 L296.0 409.3 L297.5 409.4 L299.0 409.4 L300.5 409.4 L302.0 409.4 L303.5 409.4 L305.0 409.4 L306.5 409.4 L308.0 409.4 L309.5 409.5 L311.0 409.5 L312.5 409.5 L314.0 409.5 L315.5 409.5 L317.0 409.5 L318.5 409.5 L320.0 409.5 L321.5 409.5 L323.0 409.6 L324.5 409.6 L326.0 409.6 L327.5 409.6 L329.0 409.6 L330.5 409.6 L332.0 409.6 L333.5 409.6 L335.0 409.6 L336.5 409.6 L338.0 409.7 L339.5 409.7 L341.0 409.7 L342.5 409.7 L344.0 409.7 L345.5 409.7 L347.0 409.7 L348.5 409.7 L350.0 409.7 L351.5 409.7 L353.0 409.8 L354.5 409.8 L356.0 409.8 L357.5 409.8 L359.0 409.8 L360.5 409.8 L361.5 409.8 L362.0 409.8 L363.5 409.8 L365.0 409.8 L366.5 409.8 L368.0 409.8 L369.5 409.8 L371.0 409.8 L372.5 409.9 L374.0 409.9 L375.5 409.9 L377.0 409.9 L378.5 409.9 L380.0 409.9 L381.5 409.9 L383.0 409.9 L384.5 409.9 L386.0 409.9 L387.5 409.9 L389.0 409.9 L390.5 409.9 L392.0 409.9 L393.5 409.9 L395.0 409.9 L396.5 409.9 L398.0 410.0 L399.5 410.0 L401.0 410.0 L402.5 410.0 L404.0 410.0 L405.5 410.0 L407.0 410.0 L408.5 410.0 L410.0 410.0 L411.5 410.0 L413.0 410.0 L414.5 410.0 L416.0 410.0 L417.5 410.0 L419.0 410.0 L420.5 410.0 L422.0 410.0 L423.5 410.0 L425.0 410.0 L426.5 410.0 L428.0 410.0 L429.5 410.0 L431.0 410.0 L432.5 410.0 L434.0 410.0 L435.5 410.0 L437.0 410.0 L438.5 410.0 L440.0 410.1 L441.5 410.1 L443.0 410.1 L444.5 410.1 L446.0 410.1 L447.5 410.1 L449.0 410.1 L450.5 410.1 L452.0 410.1 L453.5 410.1 L455.0 410.1 L456.5 410.1 L458.0 410.1 L459.5 410.1 L461.0 410.1 L462.5 410.1 L464.0 410.1 L465.5 410.1 L467.0 410.1 L468.5 410.1 L470.0 410.1 L471.5 410.1 L473.0 410.1 L474.5 410.1 L476.0 410.1 L477.5 410.1 L479.0 410.2 L480.5 410.2 L482.0 410.2 L483.5 410.2 L485.0 410.2 L486.5 410.2 L488.0 410.2 L489.5 410.2 L491.0 410.2 L492.5 410.2 L494.0 410.2 L495.5 410.2 L497.0 410.2 L498.5 410.2 L500.0 410.2 L501.5 410.2 L503.0 410.2 L504.5 410.3 L506.0 410.3 L507.5 410.3 L509.0 410.3 L510.5 410.3 L512.0 410.3 L513.5 410.3 L515.0 410.3 L516.5 410.3 L518.0 410.3 L519.5 410.3 L521.0 410.4 L522.5 410.4 L524.0 410.4 L525.5 410.4 L527.0 410.4 L528.5 410.4 L530.0 410.4 L531.5 410.4 L533.0 410.4 L534.5 410.4 L536.0 410.5 L537.5 410.5 L539.0 410.5 L540.5 410.5 L542.0 410.5 L543.5 410.5 L545.0 410.6 L546.5 410.6 L548.0 410.7 L549.5 410.7 L551.0 410.8 L552.5 410.8 L554.0 410.9 L555.5 410.9 L557.0 411.0 L558.5 411.0 L560.0 411.1 L561.5 411.2 L563.0 411.2 L564.5 411.3 L566.0 411.3 L567.5 411.4 L569.0 411.4 L570.5 411.5 L572.0 411.6 L573.5 411.7 L575.0 411.7 L576.5 411.8 L578.0 411.9 L579.5 412.0 L581.0 412.1 L581.6 412.2 L582.5 412.3 L584.0 412.5 L585.5 412.8 L587.0 413.2 L588.5 413.5 L590.0 414.0 L591.5 414.4 L593.0 414.8 L594.5 415.2 L596.0 415.6 L597.5 415.9 L598.8 416.1 L599.0 416.1 L600.5 416.4 L602.0 416.6 L603.5 416.8 L605.0 417.0 L606.5 417.3 L608.0 417.4 L609.5 417.6 L611.0 417.7 L612.5 417.8 L613.9 417.8 L614.0 417.8 L615.5 417.8 L617.0 417.7 L618.5 417.6 L620.0 417.5 L621.5 417.4 L623.0 417.3 L624.5 417.2 L626.0 417.0 L627.5 416.9 L629.0 416.8 L630.5 416.7 L632.0 416.6 L633.5 416.5 L635.0 416.5 L635.5 416.5 L636.5 416.5 L638.0 416.5 L639.5 416.6 L641.0 416.7 L642.5 416.8 L644.0 416.9 L645.5 417.0 L647.0 417.1 L648.5 417.2 L650.0 417.3 L651.5 417.4 L653.0 417.5 L654.5 417.5 L656.0 417.6 L657.0 417.6 L657.5 417.6 L659.0 417.6 L660.5 417.6 L662.0 417.6 L663.5 417.6 L665.0 417.6 L666.5 417.6 L668.0 417.6 L669.5 417.7 L671.0 417.7 L672.5 417.7 L674.0 417.7 L675.5 417.7 L677.0 417.7 L678.5 417.7 L680.0 417.7 L681.5 417.7 L683.0 417.7 L684.5 417.7 L686.0 417.7 L687.5 417.7 L689.0 417.7 L690.5 417.7 L692.0 417.7 L693.5 417.7 L695.0 417.7 L696.5 417.7 L698.0 417.7 L699.5 417.7 L701.0 417.8 L702.5 417.8 L704.0 417.8 L705.5 417.8 L707.0 417.8 L708.5 417.8 L710.0 417.8 L711.5 417.8 L713.0 417.8 L714.5 417.8 L716.0 417.8 L717.5 417.8 L719.0 417.8 L720.5 417.8 L722.0 417.8 L723.5 417.8 L725.0 417.8 L726.5 417.8 L728.0 417.8 L729.5 417.8 L731.0 417.8 L732.5 417.8 L734.0 417.8 L735.5 417.8 L737.0 417.8 L738.5 417.8 L740.0 417.8 L741.5 417.8 L743.0 417.8 L744.5 417.8 L746.0 417.8 L747.5 417.8 L749.0 417.8 L750.5 417.8 L752.0 417.8 L753.5 417.8 L754.0 417.8 L755.0 417.8 L756.5 417.8 L758.0 417.8 L759.5 417.8 L761.0 417.7 L762.5 417.7 L764.0 417.7 L765.5 417.6 L767.0 417.6 L768.5 417.5 L770.0 417.4 L771.5 417.4 L773.0 417.3 L774.5 417.3 L775.7 417.2 L776.0 417.2 L777.5 417.1 L779.0 417.0 L780.5 416.9 L782.0 416.7 L783.5 416.5 L785.0 416.3 L786.5 416.1 L788.0 415.8 L788.7 415.7 L789.5 415.5 L791.0 415.1 L792.5 414.4 L794.0 413.7 L795.5 412.9 L797.0 412.0 L797.3 411.8 L798.5 411.0 L800.0 409.8 L801.5 408.4 L803.0 406.8 L804.5 405.0 L805.9 403.2 L806.0 403.1 L807.5 400.8 L809.0 398.0 L810.5 394.8 L812.0 391.2 L812.4 390.2 L813.5 387.1 L815.0 382.2 L816.5 376.4 L817.8 370.8 L818.0 369.9 L819.5 361.7 L821.0 352.1 L822.1 344.9 L822.5 342.3 L824.0 331.8 L825.5 321.0 L826.4 314.7 L827.0 310.3 L828.5 299.2 L829.6 293.1 L830.0 291.5 L831.5 286.8 L832.2 285.6 L833.0 284.8 L834.5 284.1 L834.6 284.1 L836.0 285.0 L837.2 286.7 L837.5 287.4 L839.0 294.7 L839.8 299.6 L840.5 304.2 L842.0 315.8 L843.0 323.3 L843.5 326.8 L845.0 337.1 L846.5 346.7 L846.9 349.2 L848.0 355.9 L849.5 364.7 L851.0 372.2 L851.2 373.0 L852.5 378.1 L854.0 383.2 L855.5 387.6 L856.6 390.2 L857.0 391.0 L858.5 394.0 L860.0 396.7 L861.5 399.0 L863.0 400.9 L864.2 402.1 L864.5 402.4 L866.0 403.6 L867.5 404.8 L869.0 405.8 L870.5 406.7 L872.0 407.4 L873.5 408.1 L875.0 408.6 L876.5 409.0 L878.0 409.4 L879.5 409.8 L881.0 410.1 L882.5 410.4 L884.0 410.7 L885.5 411.0 L887.0 411.2 L888.5 411.4 L890.0 411.6 L891.5 411.7 L892.2 411.8 L893.0 411.9 L894.5 412.0 L896.0 412.2 L897.5 412.3 L899.0 412.4 L900.5 412.5 L902.0 412.6 L903.5 412.7 L905.0 412.9 L906.5 413.0 L908.0 413.0 L909.5 413.1 L911.0 413.2 L912.5 413.3 L914.0 413.4 L915.5 413.5 L917.0 413.5 L918.5 413.6 L920.0 413.7 L921.5 413.7 L923.0 413.8 L924.5 413.8 L926.0 413.9 L926.7 413.9 L927.5 413.9 L929.0 414.0 L930.5 414.0 L932.0 414.1 L933.5 414.1 L935.0 414.1 L936.5 414.2 L938.0 414.2 L939.5 414.3 L941.0 414.3 L942.5 414.3 L944.0 414.4 L945.5 414.4 L947.0 414.4 L948.5 414.5 L950.0 414.5 L951.5 414.5 L953.0 414.6 L954.5 414.6 L956.0 414.6 L957.5 414.7 L959.0 414.7 L960.5 414.7 L962.0 414.8 L963.5 414.8 L965.0 414.8 L966.5 414.8 L968.0 414.9 L969.5 414.9 L971.0 414.9 L972.5 414.9 L974.0 415.0 L975.5 415.0 L977.0 415.0 L978.5 415.0 L980.0 415.1 L981.5 415.1 L983.0 415.1 L984.5 415.1 L986.0 415.1 L987.5 415.2 L989.0 415.2 L990.5 415.2 L992.0 415.2 L993.5 415.3 L995.0 415.3 L996.5 415.3 L998.0 415.3 L999.5 415.3 L1001.0 415.4 L1002.5 415.4 L1004.0 415.4 L1005.5 415.4 L1007.0 415.5 L1008.5 415.5 L1010.0 415.5 L1011.5 415.5 L1013.0 415.5 L1014.5 415.6 L1016.0 415.6 L1017.5 415.6 L1019.0 415.6 L1020.5 415.7 L1022.0 415.7 L1023.5 415.7 L1025.0 415.7 L1026.5 415.8 L1028.0 415.8 L1029.5 415.8 L1031.0 415.8 L1032.5 415.8 L1034.0 415.9 L1035.5 415.9 L1037.0 415.9 L1038.5 415.9 L1040.0 416.0 L1041.5 416.0 L1043.0 416.0 L1044.5 416.0 L1046.0 416.0 L1047.5 416.1 L1049.0 416.1 L1050.5 416.1 L1052.0 416.1 L1053.5 416.1 L1055.0 416.2 L1056.5 416.2 L1058.0 416.2 L1059.5 416.2 L1061.0 416.2 L1062.5 416.3 L1064.0 416.3 L1065.5 416.3 L1067.0 416.3 L1068.5 416.3 L1070.0 416.4 L1071.5 416.4 L1073.0 416.4 L1074.5 416.4 L1076.0 416.4 L1077.5 416.5 L1079.0 416.5 L1080.5 416.5 L1082.0 416.5 L1083.5 416.5 L1085.0 416.6 L1086.5 416.6 L1088.0 416.6 L1089.5 416.6 L1091.0 416.6 L1092.5 416.7 L1094.0 416.7 L1095.5 416.7 L1097.0 416.7 L1098.5 416.7 L1100.0 416.7 L1101.5 416.8 L1103.0 416.8 L1104.5 416.8 L1106.0 416.8 L1107.5 416.8 L1109.0 416.9 L1110.5 416.9 L1112.0 416.9 L1113.5 416.9 L1115.0 416.9 L1116.5 417.0 L1118.0 417.0 L1119.5 417.0 L1121.0 417.0 L1122.5 417.0 L1124.0 417.0 L1125.5 417.1 L1127.0 417.1 L1128.5 417.1 L1130.0 417.1 L1131.5 417.1 L1133.0 417.1 L1134.5 417.2 L1136.0 417.2 L1137.5 417.2 L1139.0 417.2 L1140.5 417.2 L1142.0 417.3 L1143.5 417.3 L1145.0 417.3 L1146.5 417.3 L1148.0 417.3 L1149.5 417.3 L1151.0 417.4 L1152.5 417.4 L1154.0 417.4 L1155.5 417.4 L1157.0 417.4 L1158.5 417.4 L1160.0 417.5 L1161.5 417.5 L1163.0 417.5 L1164.5 417.5 L1166.0 417.5 L1167.5 417.5 L1169.0 417.6 L1170.5 417.6 L1172.0 417.6 L1173.5 417.6 L1175.0 417.6 L1176.5 417.6 L1178.0 417.7 L1179.5 417.7 L1181.0 417.7 L1182.5 417.7 L1184.0 417.7 L1185.5 417.8 L1187.0 417.8 L1188.5 417.8 L1190.0 417.8 L1191.5 417.8 L1193.0 417.8 L1194.5 417.9 L1196.0 417.9 L1197.5 417.9 L1199.0 417.9 L1200.5 417.9 L1202.0 417.9 L1203.5 418.0 L1205.0 418.0 L1206.5 418.0 L1208.0 418.0 L1209.5 418.0 L1211.0 418.0 L1212.5 418.1 L1214.0 418.1 L1215.5 418.1 L1217.0 418.1 L1218.5 418.1 L1220.0 418.1 L1221.5 418.2 L1223.0 418.2 L1224.5 418.2 L1226.0 418.2 L1227.5 418.2 L1229.0 418.3 L1230.5 418.3 L1232.0 418.3 L1233.5 418.3 L1235.0 418.3 L1236.5 418.3 L1238.0 418.4 L1239.5 418.4 L1241.0 418.4 L1242.5 418.4 L1244.0 418.4 L1245.5 418.4 L1247.0 418.5 L1248.5 418.5 L1250.0 418.5 L1251.5 418.5 L1253.0 418.5 L1254.5 418.6 L1256.0 418.6 L1257.5 418.6 L1259.0 418.6 L1260.5 418.6 L1262.0 418.6 L1263.5 418.7 L1265.0 418.7 L1266.5 418.7 L1268.0 418.7 L1269.5 418.7 L1271.0 418.8 L1272.5 418.8 L1274.0 418.8 L1275.5 418.8 L1277.0 418.8 L1278.5 418.9 L1280.0 418.9 L1281.5 418.9 L1283.0 418.9 L1284.5 418.9 L1286.0 419.0 L1287.5 419.0 L1289.0 419.0 L1290.5 419.0 L1292.0 419.0 L1293.5 419.1 L1295.0 419.1 L1296.5 419.1 L1297.2 419.1 L1298.0 419.1 L1299.5 419.1 L1301.0 419.2 L1302.5 419.2 L1304.0 419.2 L1305.5 419.2 L1307.0 419.2 L1308.5 419.2 L1310.0 419.3 L1311.5 419.3 L1313.0 419.3 L1314.5 419.3 L1316.0 419.3 L1317.5 419.4 L1319.0 419.4 L1320.5 419.4 L1322.0 419.4 L1323.5 419.4 L1325.0 419.5 L1326.5 419.5 L1328.0 419.5 L1329.5 419.5 L1331.0 419.5 L1332.5 419.6 L1334.0 419.6 L1335.5 419.6 L1337.0 419.6 L1338.5 419.6 L1340.0 419.7 L1341.5 419.7 L1343.0 419.7 L1344.5 419.7 L1346.0 419.7 L1347.5 419.7 L1349.0 419.8 L1350.5 419.8 L1352.0 419.8 L1353.5 419.8 L1355.0 419.8 L1356.5 419.9 L1358.0 419.9 L1359.5 419.9 L1361.0 419.9 L1362.5 419.9 L1364.0 420.0 L1365.5 420.0 L1367.0 420.0 L1368.5 420.0 L1370.0 420.0 L1371.5 420.1 L1373.0 420.1 L1374.5 420.1 L1376.0 420.1 L1377.5 420.1 L1379.0 420.2 L1380.5 420.2 L1382.0 420.2 L1383.5 420.2 L1385.0 420.2 L1386.5 420.3 L1388.0 420.3 L1389.5 420.3 L1391.0 420.3 L1392.5 420.3 L1394.0 420.4 L1395.5 420.4 L1397.0 420.4 L1398.5 420.4 L1400.0 420.5 L1401.5 420.5 L1403.0 420.5 L1404.5 420.5 L1406.0 420.5 L1407.5 420.6 L1409.0 420.6 L1410.5 420.6 L1412.0 420.6 L1413.5 420.7 L1415.0 420.7 L1416.5 420.7 L1418.0 420.7 L1419.5 420.8 L1421.0 420.8 L1422.5 420.8 L1424.0 420.8 L1425.5 420.8 L1427.0 420.9 L1428.5 420.9 L1430.0 420.9 L1431.5 420.9 L1433.0 421.0 L1434.5 421.0 L1436.0 421.0 L1437.5 421.1 L1439.0 421.1 L1440.5 421.1 L1442.0 421.1 L1443.5 421.2 L1445.0 421.2 L1445.8 421.2 L1446.5 421.2 L1448.0 421.2 L1449.5 421.3 L1451.0 421.3 L1452.5 421.3 L1454.0 421.3 L1455.5 421.4 L1457.0 421.4 L1458.5 421.4 L1460.0 421.5 L1461.5 421.5 L1463.0 421.5 L1464.5 421.5 L1466.0 421.6 L1467.5 421.6 L1469.0 421.6 L1470.5 421.6 L1472.0 421.7 L1473.5 421.7 L1475.0 421.7 L1476.5 421.8 L1478.0 421.8 L1479.5 421.8 L1481.0 421.8 L1482.5 421.9 L1484.0 421.9 L1485.5 421.9 L1487.0 421.9 L1488.5 422.0 L1490.0 422.0 L1491.5 422.0 L1493.0 422.1 L1494.5 422.1 L1496.0 422.1 L1497.5 422.1 L1499.0 422.2 L1500.5 422.2 L1502.0 422.2 L1503.5 422.3 L1505.0 422.3 L1506.5 422.3 L1508.0 422.4 L1509.5 422.4 L1511.0 422.4 L1512.5 422.5 L1514.0 422.5 L1515.5 422.5 L1517.0 422.6 L1518.5 422.6 L1520.0 422.6 L1521.5 422.7 L1523.0 422.7 L1524.5 422.7 L1526.0 422.8 L1527.5 422.8 L1529.0 422.8 L1530.5 422.9 L1532.0 422.9 L1533.5 422.9 L1535.0 423.0 L1536.5 423.0 L1538.0 423.1 L1539.5 423.1 L1541.0 423.1 L1542.5 423.2 L1544.0 423.2 L1545.5 423.3 L1547.0 423.3 L1548.5 423.3 L1550.0 423.4 L1551.5 423.4 L1553.0 423.5 L1554.5 423.5 L1556.0 423.6 L1557.5 423.6 L1559.0 423.7 L1560.5 423.7 L1562.0 423.8 L1563.5 423.8 L1565.0 423.8 L1566.5 423.9 L1568.0 423.9 L1569.5 424.0 L1571.0 424.1 L1572.5 424.1 L1574.0 424.2 L1575.5 424.2 L1577.0 424.3 L1578.5 424.3 L1580.0 424.4 L1581.5 424.4 L1583.0 424.5 L1584.5 424.5 L1586.0 424.6 L1587.5 424.7 L1589.0 424.7 L1590.5 424.8 L1592.0 424.9 L1593.5 424.9 L1595.0 425.0 L1596.5 425.0 L1598.0 425.1 L1599.5 425.2 L1600.0 425.2 L1601.0 425.2 L1602.5 425.3 L1604.0 425.4 L1605.5 425.5 L1607.0 425.6 L1608.5 425.7 L1610.0 425.8 L1611.5 425.9 L1613.0 426.0 L1614.5 426.1 L1616.0 426.2 L1617.5 426.4 L1619.0 426.5 L1620.5 426.6 L1622.0 426.8 L1623.5 426.9 L1625.0 427.1 L1626.5 427.2 L1628.0 427.4 L1629.5 427.5 L1631.0 427.7 L1632.5 427.9 L1634.0 428.0 L1635.5 428.2 L1637.0 428.4 L1638.5 428.5 L1640.0 428.7 L1641.5 428.9 L1643.0 429.0 L1644.5 429.2 L1646.0 429.4 L1647.5 429.6 L1649.0 429.8 L1650.5 430.0 L1652.0 430.2 L1653.5 430.4 L1655.0 430.6 L1656.5 430.8 L1658.0 431.0 L1659.5 431.2 L1661.0 431.4 L1662.5 431.7 L1664.0 431.9 L1665.5 432.2 L1667.0 432.4 L1668.5 432.6 L1670.0 432.9 L1671.5 433.2 L1673.0 433.4 L1674.5 433.7 L1676.0 434.0 L1677.5 434.2 L1679.0 434.5 L1680.5 434.8 L1682.0 435.1 L1683.5 435.3 L1685.0 435.6 L1686.5 435.9 L1688.0 436.2 L1689.5 436.5 L1691.0 436.8 L1692.0 437.0 L1692.5 437.1 L1694.0 437.4 L1695.5 437.7 L1697.0 438.0 L1698.5 438.3 L1700.0 438.7 L1701.5 439.0 L1703.0 439.3 L1704.5 439.6 L1706.0 440.0 L1707.5 440.3 L1709.0 440.7 L1710.5 441.1 L1712.0 441.4 L1713.5 441.8 L1715.0 442.2 L1716.5 442.6 L1718.0 443.0 L1719.5 443.4 L1721.0 443.8 L1722.5 444.3 L1724.0 444.7 L1725.5 445.2 L1726.6 445.5 L1727.0 445.6 L1728.5 446.1 L1730.0 446.6 L1731.5 447.1 L1733.0 447.6 L1734.5 448.2 L1736.0 448.7 L1737.5 449.3 L1739.0 449.9 L1740.5 450.4 L1742.0 451.1 L1743.5 451.7 L1745.0 452.3 L1746.5 453.0 L1748.0 453.6 L1749.5 454.3 L1751.0 455.0 L1752.5 455.7 L1754.0 456.4 L1755.5 457.2 L1757.0 457.9 L1758.5 458.7 L1760.0 459.4 L1761.1 460.0 L1761.5 460.2 L1763.0 461.0 L1764.5 461.9 L1766.0 462.8 L1767.5 463.8 L1769.0 464.8 L1770.5 465.8 L1772.0 466.9 L1773.5 467.9 L1775.0 469.0 L1776.5 470.1 L1778.0 471.1 L1779.5 472.2 L1781.0 473.3 L1782.5 474.3 L1784.0 475.3 L1784.1 475.4 L1785.5 476.4 L1787.0 477.4 L1788.5 478.5 L1790.0 479.5 L1791.5 480.6 L1793.0 481.6 L1794.5 482.6 L1796.0 483.5 L1797.5 484.4 L1797.9 484.6 L1799.0 485.2 L1800.5 486.0 L1802.0 486.8 L1803.5 487.6 L1805.0 488.2 L1806.5 488.7 L1807.1 488.8 L1808.0 489.0 L1809.5 489.2 L1811.0 489.4 L1811.7 489.4 L1812.5 489.4 L1814.0 489.1 L1815.5 488.7 L1817.0 488.2 L1818.5 487.6 L1818.6 487.6 L1820.0 486.8 L1821.5 485.7 L1823.0 484.2 L1824.5 482.4 L1825.5 481.2 L1826.0 480.5 L1827.5 478.0 L1829.0 474.9 L1830.5 471.6 L1832.0 468.2 L1832.4 467.4 L1833.5 465.0 L1835.0 461.7 L1836.5 458.3 L1838.0 455.1 L1839.3 452.4 L1839.5 452.0 L1841.0 449.1 L1842.5 446.3 L1844.0 443.6 L1845.5 441.2 L1846.2 440.2 L1847.0 439.1 L1848.5 437.1 L1850.0 435.3 L1851.5 433.7 L1853.0 432.5 L1853.1 432.4 L1854.5 431.5 L1856.0 430.6 L1857.5 429.8 L1859.0 429.1 L1860.5 428.6 L1862.0 428.2 L1862.3 428.2 L1863.5 428.0 L1865.0 427.8 L1866.5 427.7 L1868.0 427.5 L1869.5 427.4 L1871.0 427.3 L1872.5 427.2 L1874.0 427.1 L1875.5 427.1 L1876.1 427.1 L1877.0 427.1 L1878.5 427.1 L1880.0 427.1 L1881.5 427.1 L1883.0 427.1 L1884.5 427.1 L1886.0 427.1 L1887.5 427.1 L1889.0 427.1 L1890.5 427.2 L1892.0 427.2 L1893.5 427.2 L1895.0 427.2 L1896.5 427.2 L1898.0 427.2 L1899.5 427.2 L1901.0 427.2 L1902.5 427.3 L1904.0 427.3 L1905.5 427.3 L1907.0 427.3 L1908.5 427.3 L1910.0 427.3 L1911.5 427.4 L1913.0 427.4 L1914.5 427.4 L1916.0 427.4 L1917.5 427.4 L1919.0 427.4 L1920.5 427.4 L1922.0 427.4 L1923.5 427.5 L1925.0 427.5 L1926.5 427.5 L1928.0 427.5 L1929.5 427.5 L1931.0 427.5 L1931.4 427.5 L1932.5 427.5 L1934.0 427.5 L1935.5 427.5 L1937.0 427.5 L1938.5 427.5 L1940.0 427.5 L1941.5 427.5 L1943.0 427.5 L1944.5 427.5 L1946.0 427.6 L1947.5 427.6 L1949.0 427.6 L1950.5 427.6 L1952.0 427.6 L1953.5 427.6 L1955.0 427.6 L1956.5 427.6 L1958.0 427.6 L1959.5 427.6 L1961.0 427.6 L1962.5 427.6 L1964.0 427.6 L1965.5 427.6 L1967.0 427.6 L1968.5 427.6 L1970.0 427.6 L1971.5 427.6 L1973.0 427.6 L1974.5 427.7 L1976.0 427.7 L1977.5 427.7 L1979.0 427.7 L1980.5 427.7 L1982.0 427.7 L1983.5 427.7 L1985.0 427.7 L1986.5 427.7 L1988.0 427.7 L1989.5 427.7 L1991.0 427.7 L1992.5 427.7 L1994.0 427.7 L1995.5 427.7 L1997.0 427.7 L1998.5 427.7 L2000.0 427.7 L2001.5 427.7 L2003.0 427.7 L2004.5 427.7 L2006.0 427.7 L2007.5 427.7 L2009.0 427.7 L2010.5 427.7 L2012.0 427.8 L2013.5 427.8 L2015.0 427.8 L2016.5 427.8 L2018.0 427.8 L2019.5 427.8 L2021.0 427.8 L2022.5 427.8 L2024.0 427.8 L2025.5 427.8 L2027.0 427.8 L2028.5 427.8 L2030.0 427.8 L2031.5 427.8 L2033.0 427.8 L2034.5 427.8 L2036.0 427.8 L2037.5 427.8 L2039.0 427.8 L2040.5 427.8 L2042.0 427.8 L2043.5 427.8 L2045.0 427.8 L2046.5 427.8 L2048.0 427.8 L2049.5 427.8 L2051.0 427.8 L2052.5 427.8 L2054.0 427.8 L2055.5 427.8 L2057.0 427.8" fill="none" stroke="#B177DE" stroke-width="8" stroke-linejoin="round"/>
<path d="M176.0 177.3 L177.5 177.3 L179.0 177.3 L180.5 177.4 L182.0 177.4 L183.5 177.4 L185.0 177.4 L186.5 177.5 L188.0 177.5 L189.5 177.5 L191.0 177.5 L192.5 177.6 L194.0 177.6 L195.5 177.6 L197.0 177.6 L198.5 177.6 L200.0 177.7 L201.5 177.7 L203.0 177.7 L204.5 177.7 L206.0 177.8 L207.5 177.8 L209.0 177.8 L210.5 177.8 L212.0 177.8 L213.5 177.9 L215.0 177.9 L216.5 177.9 L218.0 177.9 L219.5 178.0 L221.0 178.0 L222.5 178.0 L224.0 178.0 L225.5 178.0 L227.0 178.1 L228.5 178.1 L230.0 178.1 L231.5 178.1 L233.0 178.1 L234.5 178.2 L236.0 178.2 L237.5 178.2 L239.0 178.2 L240.5 178.2 L242.0 178.3 L243.5 178.3 L245.0 178.3 L246.5 178.3 L248.0 178.3 L249.5 178.4 L251.0 178.4 L252.5 178.4 L254.0 178.4 L255.5 178.4 L257.0 178.5 L258.5 178.5 L260.0 178.5 L261.5 178.5 L263.0 178.5 L264.5 178.6 L266.0 178.6 L267.5 178.6 L269.0 178.6 L270.5 178.6 L272.0 178.7 L273.5 178.7 L275.0 178.7 L276.5 178.7 L278.0 178.7 L279.5 178.7 L281.0 178.8 L282.5 178.8 L284.0 178.8 L285.5 178.8 L287.0 178.8 L288.5 178.8 L290.0 178.9 L291.5 178.9 L293.0 178.9 L294.5 178.9 L296.0 178.9 L297.5 178.9 L299.0 179.0 L300.5 179.0 L302.0 179.0 L303.5 179.0 L305.0 179.0 L306.5 179.0 L308.0 179.1 L309.5 179.1 L311.0 179.1 L312.5 179.1 L314.0 179.1 L315.5 179.1 L317.0 179.2 L318.5 179.2 L320.0 179.2 L321.5 179.2 L323.0 179.2 L324.5 179.2 L326.0 179.2 L327.5 179.3 L329.0 179.3 L330.5 179.3 L332.0 179.3 L333.5 179.3 L335.0 179.3 L336.5 179.3 L338.0 179.3 L339.5 179.4 L341.0 179.4 L342.5 179.4 L344.0 179.4 L345.5 179.4 L347.0 179.4 L348.5 179.4 L350.0 179.4 L351.5 179.5 L353.0 179.5 L354.5 179.5 L356.0 179.5 L357.5 179.5 L359.0 179.5 L360.5 179.5 L362.0 179.5 L363.5 179.5 L365.0 179.6 L366.5 179.6 L368.0 179.6 L369.5 179.6 L371.0 179.6 L372.5 179.6 L374.0 179.6 L375.5 179.6 L377.0 179.6 L378.5 179.6 L380.0 179.7 L381.5 179.7 L383.0 179.7 L384.5 179.7 L386.0 179.7 L387.5 179.7 L388.5 179.7 L389.0 179.7 L390.5 179.7 L392.0 179.7 L393.5 179.7 L395.0 179.7 L396.5 179.7 L398.0 179.7 L399.5 179.8 L401.0 179.8 L402.5 179.8 L404.0 179.8 L405.5 179.8 L407.0 179.8 L408.5 179.8 L410.0 179.8 L411.5 179.8 L413.0 179.8 L414.5 179.8 L416.0 179.8 L417.5 179.8 L419.0 179.8 L420.5 179.8 L422.0 179.8 L423.5 179.8 L425.0 179.8 L426.5 179.8 L428.0 179.8 L429.5 179.8 L431.0 179.9 L432.5 179.9 L434.0 179.9 L435.5 179.9 L437.0 179.9 L438.5 179.9 L440.0 179.9 L441.5 179.9 L443.0 179.9 L444.5 179.9 L446.0 179.9 L447.5 179.9 L449.0 179.9 L450.5 179.9 L452.0 179.9 L453.5 179.9 L455.0 179.9 L456.5 179.9 L458.0 179.9 L459.5 179.9 L461.0 179.9 L462.5 179.9 L464.0 179.9 L465.5 179.9 L467.0 179.9 L468.5 179.9 L470.0 179.9 L471.5 179.9 L473.0 179.9 L474.5 179.9 L476.0 179.9 L477.5 179.9 L479.0 179.9 L480.5 179.9 L482.0 179.9 L483.5 180.0 L485.0 180.0 L486.5 180.0 L488.0 180.0 L489.5 180.0 L491.0 180.0 L492.5 180.0 L494.0 180.0 L495.5 180.0 L497.0 180.0 L498.5 180.0 L500.0 180.0 L501.5 180.0 L503.0 180.0 L504.5 180.0 L506.0 180.0 L507.5 180.0 L509.0 180.0 L510.5 180.0 L512.0 180.0 L513.5 180.0 L515.0 180.0 L516.5 180.0 L518.0 180.1 L519.5 180.1 L521.0 180.1 L522.5 180.1 L524.0 180.1 L525.5 180.1 L527.0 180.1 L528.5 180.1 L530.0 180.1 L531.5 180.1 L533.0 180.1 L534.5 180.1 L536.0 180.1 L537.5 180.2 L539.0 180.2 L540.5 180.2 L542.0 180.2 L543.5 180.2 L545.0 180.2 L546.5 180.2 L548.0 180.2 L549.5 180.2 L551.0 180.2 L552.5 180.3 L554.0 180.3 L555.5 180.3 L557.0 180.3 L557.4 180.3 L558.5 180.3 L560.0 180.3 L561.5 180.4 L563.0 180.4 L564.5 180.5 L566.0 180.6 L567.5 180.6 L569.0 180.7 L570.5 180.8 L572.0 180.9 L573.5 181.0 L575.0 181.1 L576.5 181.3 L578.0 181.4 L579.5 181.5 L581.0 181.6 L581.6 181.7 L582.5 181.8 L584.0 182.0 L585.5 182.4 L587.0 182.7 L588.5 183.2 L590.0 183.6 L591.5 184.1 L593.0 184.6 L594.5 185.0 L596.0 185.4 L597.5 185.8 L599.0 186.1 L600.5 186.4 L602.0 186.6 L603.1 186.6 L603.5 186.6 L605.0 186.6 L606.5 186.7 L608.0 186.7 L609.5 186.7 L611.0 186.7 L612.5 186.7 L614.0 186.7 L615.5 186.8 L617.0 186.8 L618.5 186.8 L620.0 186.8 L621.5 186.8 L623.0 186.8 L624.5 186.8 L624.7 186.8 L626.0 186.8 L627.5 186.8 L629.0 186.8 L630.5 186.8 L632.0 186.8 L633.5 186.8 L635.0 186.8 L636.5 186.8 L638.0 186.8 L639.5 186.8 L641.0 186.8 L642.5 186.8 L644.0 186.8 L645.5 186.8 L647.0 186.8 L648.5 186.8 L650.0 186.8 L651.5 186.8 L653.0 186.8 L654.5 186.8 L656.0 186.8 L657.5 186.8 L659.0 186.8 L660.5 186.8 L662.0 186.8 L663.5 186.8 L665.0 186.8 L666.5 186.8 L668.0 186.8 L669.5 186.8 L671.0 186.8 L672.5 186.8 L674.0 186.8 L675.5 186.8 L677.0 186.8 L678.5 186.8 L680.0 186.8 L681.5 186.8 L683.0 186.8 L684.5 186.8 L686.0 186.8 L687.5 186.8 L689.0 186.8 L690.5 186.8 L692.0 186.8 L693.5 186.8 L695.0 186.8 L696.5 186.8 L698.0 186.8 L699.5 186.8 L701.0 186.8 L702.5 186.8 L704.0 186.8 L705.5 186.8 L707.0 186.8 L708.5 186.8 L710.0 186.8 L711.5 186.8 L713.0 186.8 L714.5 186.8 L716.0 186.8 L717.5 186.8 L719.0 186.8 L720.5 186.8 L722.0 186.8 L723.5 186.8 L725.0 186.8 L726.5 186.8 L728.0 186.8 L729.5 186.8 L731.0 186.8 L732.5 186.8 L734.0 186.8 L735.5 186.8 L737.0 186.8 L738.5 186.8 L740.0 186.8 L741.5 186.8 L743.0 186.8 L744.5 186.8 L746.0 186.8 L747.5 186.8 L749.0 186.8 L750.5 186.8 L752.0 186.8 L753.5 186.8 L754.0 186.8 L755.0 186.8 L756.5 186.8 L758.0 186.7 L759.5 186.6 L761.0 186.4 L762.5 186.3 L764.0 186.1 L765.5 185.9 L767.0 185.7 L768.5 185.5 L770.0 185.2 L771.5 185.0 L773.0 184.7 L774.5 184.4 L775.7 184.2 L776.0 184.1 L777.5 183.8 L779.0 183.5 L780.5 183.1 L782.0 182.6 L783.5 182.1 L785.0 181.5 L786.5 180.9 L788.0 180.2 L788.7 179.9 L789.5 179.5 L791.0 178.6 L792.5 177.6 L794.0 176.5 L795.5 175.2 L797.0 173.8 L797.3 173.5 L798.5 172.2 L800.0 170.2 L801.5 167.8 L803.0 165.2 L803.8 163.7 L804.5 162.3 L806.0 158.9 L807.5 155.0 L809.0 150.5 L810.2 146.5 L810.5 145.4 L812.0 138.7 L813.5 130.9 L814.6 124.9 L815.0 122.7 L816.5 114.1 L818.0 104.9 L818.9 99.0 L819.5 94.7 L821.0 82.9 L822.1 75.3 L822.5 73.0 L824.0 64.8 L825.3 60.2 L825.5 59.8 L827.0 57.1 L828.5 55.9 L828.6 55.9 L830.0 56.9 L831.5 59.6 L831.8 60.2 L833.0 65.5 L834.5 76.1 L835.0 79.6 L836.0 86.6 L837.5 97.7 L838.3 103.3 L839.0 107.9 L840.5 117.5 L842.0 126.1 L842.6 129.2 L843.5 133.5 L845.0 140.0 L846.5 145.9 L848.0 150.8 L849.5 155.1 L851.0 159.0 L852.5 162.4 L854.0 165.1 L854.5 165.9 L855.5 167.3 L857.0 169.1 L858.5 170.7 L860.0 172.1 L861.5 173.2 L862.0 173.5 L863.0 174.1 L864.5 174.9 L866.0 175.6 L867.5 176.2 L869.0 176.8 L870.5 177.2 L872.0 177.6 L872.8 177.8 L873.5 177.9 L875.0 178.2 L876.5 178.5 L878.0 178.7 L879.5 178.9 L881.0 179.1 L882.5 179.3 L884.0 179.5 L885.5 179.7 L887.0 179.8 L888.5 180.0 L890.0 180.1 L891.5 180.2 L893.0 180.3 L894.4 180.4 L894.5 180.4 L896.0 180.5 L897.5 180.6 L899.0 180.7 L900.5 180.8 L902.0 180.8 L903.5 180.9 L905.0 181.0 L906.5 181.1 L908.0 181.1 L909.5 181.2 L911.0 181.2 L912.5 181.3 L914.0 181.4 L915.5 181.4 L917.0 181.5 L918.5 181.5 L920.0 181.6 L921.5 181.6 L923.0 181.7 L924.5 181.7 L926.0 181.8 L927.5 181.8 L929.0 181.9 L930.5 181.9 L932.0 182.0 L933.5 182.0 L935.0 182.1 L936.5 182.1 L938.0 182.1 L939.5 182.2 L941.0 182.2 L942.5 182.3 L944.0 182.3 L945.5 182.4 L947.0 182.5 L948.3 182.5 L948.5 182.5 L950.0 182.6 L951.5 182.6 L953.0 182.7 L954.5 182.7 L956.0 182.8 L957.5 182.9 L959.0 182.9 L960.5 183.0 L962.0 183.1 L963.5 183.1 L965.0 183.2 L966.5 183.2 L968.0 183.3 L969.5 183.4 L971.0 183.4 L972.5 183.5 L974.0 183.6 L975.5 183.6 L977.0 183.7 L978.5 183.7 L980.0 183.8 L981.5 183.9 L983.0 183.9 L984.5 184.0 L986.0 184.0 L987.5 184.1 L989.0 184.1 L990.5 184.2 L992.0 184.3 L993.5 184.3 L995.0 184.3 L996.5 184.4 L998.0 184.4 L999.5 184.5 L1001.0 184.5 L1002.5 184.6 L1004.0 184.6 L1005.5 184.6 L1007.0 184.6 L1008.5 184.7 L1010.0 184.7 L1011.5 184.7 L1013.0 184.7 L1014.5 184.8 L1016.0 184.8 L1017.5 184.8 L1019.0 184.8 L1020.5 184.9 L1022.0 184.9 L1023.5 184.9 L1025.0 184.9 L1026.5 184.9 L1028.0 185.0 L1029.5 185.0 L1031.0 185.0 L1032.5 185.0 L1034.0 185.0 L1035.5 185.1 L1037.0 185.1 L1038.5 185.1 L1040.0 185.1 L1041.5 185.1 L1043.0 185.1 L1044.5 185.2 L1046.0 185.2 L1047.5 185.2 L1049.0 185.2 L1050.5 185.2 L1052.0 185.3 L1053.5 185.3 L1055.0 185.3 L1056.5 185.3 L1058.0 185.3 L1059.5 185.3 L1061.0 185.4 L1062.5 185.4 L1064.0 185.4 L1065.5 185.4 L1067.0 185.4 L1068.5 185.4 L1070.0 185.5 L1071.5 185.5 L1073.0 185.5 L1074.5 185.5 L1076.0 185.5 L1077.5 185.5 L1079.0 185.5 L1080.5 185.6 L1082.0 185.6 L1083.5 185.6 L1085.0 185.6 L1086.5 185.6 L1088.0 185.6 L1089.5 185.6 L1091.0 185.7 L1092.5 185.7 L1094.0 185.7 L1095.5 185.7 L1097.0 185.7 L1098.5 185.7 L1100.0 185.7 L1101.5 185.7 L1103.0 185.8 L1104.5 185.8 L1106.0 185.8 L1107.5 185.8 L1109.0 185.8 L1110.5 185.8 L1112.0 185.8 L1113.5 185.8 L1115.0 185.9 L1116.5 185.9 L1118.0 185.9 L1119.5 185.9 L1121.0 185.9 L1122.5 185.9 L1124.0 185.9 L1125.5 185.9 L1127.0 185.9 L1128.5 186.0 L1130.0 186.0 L1131.5 186.0 L1133.0 186.0 L1134.5 186.0 L1136.0 186.0 L1137.5 186.0 L1139.0 186.0 L1140.5 186.0 L1142.0 186.1 L1143.5 186.1 L1145.0 186.1 L1146.5 186.1 L1148.0 186.1 L1149.5 186.1 L1151.0 186.1 L1152.5 186.1 L1154.0 186.1 L1155.5 186.1 L1157.0 186.2 L1158.5 186.2 L1160.0 186.2 L1161.5 186.2 L1163.0 186.2 L1164.5 186.2 L1166.0 186.2 L1167.5 186.2 L1169.0 186.2 L1170.5 186.2 L1172.0 186.2 L1173.5 186.3 L1175.0 186.3 L1176.5 186.3 L1178.0 186.3 L1179.5 186.3 L1181.0 186.3 L1182.5 186.3 L1184.0 186.3 L1185.5 186.3 L1187.0 186.3 L1188.5 186.3 L1190.0 186.3 L1191.5 186.4 L1193.0 186.4 L1194.5 186.4 L1196.0 186.4 L1197.5 186.4 L1199.0 186.4 L1200.5 186.4 L1202.0 186.4 L1203.5 186.4 L1205.0 186.4 L1206.5 186.4 L1208.0 186.4 L1209.5 186.5 L1211.0 186.5 L1212.5 186.5 L1214.0 186.5 L1215.5 186.5 L1217.0 186.5 L1218.5 186.5 L1220.0 186.5 L1221.5 186.5 L1223.0 186.5 L1224.5 186.5 L1226.0 186.5 L1227.5 186.6 L1229.0 186.6 L1230.5 186.6 L1232.0 186.6 L1233.5 186.6 L1235.0 186.6 L1236.5 186.6 L1238.0 186.6 L1239.5 186.6 L1241.0 186.6 L1242.5 186.6 L1244.0 186.6 L1245.5 186.7 L1247.0 186.7 L1248.5 186.7 L1250.0 186.7 L1251.5 186.7 L1253.0 186.7 L1254.5 186.7 L1256.0 186.7 L1257.5 186.7 L1259.0 186.7 L1260.5 186.7 L1262.0 186.7 L1263.5 186.8 L1265.0 186.8 L1266.5 186.8 L1268.0 186.8 L1269.5 186.8 L1271.0 186.8 L1272.5 186.8 L1274.0 186.8 L1275.5 186.8 L1277.0 186.8 L1278.5 186.8 L1280.0 186.9 L1281.5 186.9 L1283.0 186.9 L1284.5 186.9 L1286.0 186.9 L1287.5 186.9 L1287.6 186.9 L1289.0 186.9 L1290.5 186.9 L1292.0 186.9 L1293.5 186.9 L1295.0 186.9 L1296.5 187.0 L1298.0 187.0 L1299.5 187.0 L1301.0 187.0 L1302.5 187.0 L1304.0 187.0 L1305.5 187.0 L1307.0 187.0 L1308.5 187.0 L1310.0 187.0 L1311.5 187.0 L1313.0 187.0 L1314.5 187.1 L1316.0 187.1 L1317.5 187.1 L1319.0 187.1 L1320.5 187.1 L1322.0 187.1 L1323.5 187.1 L1325.0 187.1 L1326.5 187.1 L1328.0 187.1 L1329.5 187.1 L1331.0 187.1 L1332.5 187.1 L1334.0 187.1 L1335.5 187.1 L1337.0 187.2 L1338.5 187.2 L1340.0 187.2 L1341.5 187.2 L1343.0 187.2 L1344.5 187.2 L1346.0 187.2 L1347.5 187.2 L1349.0 187.2 L1350.5 187.2 L1352.0 187.2 L1353.5 187.2 L1355.0 187.2 L1356.5 187.2 L1358.0 187.2 L1359.5 187.3 L1361.0 187.3 L1362.5 187.3 L1364.0 187.3 L1365.5 187.3 L1367.0 187.3 L1368.5 187.3 L1370.0 187.3 L1371.5 187.3 L1373.0 187.3 L1374.5 187.3 L1376.0 187.3 L1377.5 187.3 L1379.0 187.3 L1380.5 187.4 L1382.0 187.4 L1383.5 187.4 L1385.0 187.4 L1386.5 187.4 L1388.0 187.4 L1389.5 187.4 L1391.0 187.4 L1392.5 187.4 L1394.0 187.4 L1395.5 187.4 L1397.0 187.4 L1398.5 187.5 L1400.0 187.5 L1401.5 187.5 L1403.0 187.5 L1404.5 187.5 L1406.0 187.5 L1407.5 187.5 L1409.0 187.5 L1410.5 187.5 L1412.0 187.5 L1413.5 187.6 L1415.0 187.6 L1416.5 187.6 L1418.0 187.6 L1419.5 187.6 L1421.0 187.6 L1422.5 187.6 L1424.0 187.6 L1425.5 187.6 L1427.0 187.7 L1428.5 187.7 L1430.0 187.7 L1431.4 187.7 L1431.5 187.7 L1433.0 187.7 L1434.5 187.7 L1436.0 187.7 L1437.5 187.8 L1439.0 187.8 L1440.5 187.8 L1442.0 187.8 L1443.5 187.8 L1445.0 187.8 L1446.5 187.9 L1448.0 187.9 L1449.5 187.9 L1451.0 187.9 L1452.5 187.9 L1454.0 187.9 L1455.5 188.0 L1457.0 188.0 L1458.5 188.0 L1460.0 188.0 L1461.5 188.0 L1463.0 188.1 L1464.5 188.1 L1466.0 188.1 L1467.5 188.1 L1469.0 188.2 L1470.5 188.2 L1472.0 188.2 L1473.5 188.2 L1475.0 188.3 L1476.5 188.3 L1478.0 188.3 L1479.5 188.3 L1481.0 188.4 L1482.5 188.4 L1484.0 188.4 L1485.5 188.4 L1487.0 188.5 L1488.5 188.5 L1490.0 188.5 L1491.5 188.5 L1493.0 188.6 L1494.5 188.6 L1496.0 188.6 L1497.5 188.7 L1499.0 188.7 L1500.5 188.7 L1502.0 188.8 L1503.5 188.8 L1505.0 188.8 L1506.5 188.9 L1508.0 188.9 L1509.5 188.9 L1511.0 189.0 L1512.5 189.0 L1514.0 189.0 L1515.5 189.1 L1517.0 189.1 L1518.5 189.2 L1520.0 189.2 L1521.5 189.2 L1523.0 189.3 L1524.5 189.3 L1526.0 189.4 L1527.5 189.4 L1529.0 189.4 L1530.5 189.5 L1532.0 189.5 L1533.5 189.6 L1535.0 189.6 L1536.5 189.6 L1538.0 189.7 L1539.5 189.7 L1541.0 189.8 L1542.5 189.8 L1544.0 189.9 L1545.5 189.9 L1547.0 190.0 L1548.5 190.0 L1550.0 190.1 L1551.5 190.1 L1553.0 190.2 L1554.5 190.2 L1556.0 190.3 L1557.5 190.3 L1559.0 190.4 L1560.5 190.4 L1562.0 190.5 L1563.5 190.5 L1565.0 190.6 L1566.5 190.6 L1568.0 190.7 L1569.5 190.7 L1571.0 190.8 L1572.5 190.9 L1574.0 190.9 L1575.5 191.0 L1577.0 191.0 L1578.5 191.1 L1580.0 191.1 L1581.5 191.2 L1583.0 191.3 L1584.5 191.3 L1586.0 191.4 L1587.5 191.5 L1589.0 191.5 L1590.5 191.6 L1592.0 191.6 L1593.5 191.7 L1595.0 191.8 L1596.5 191.8 L1598.0 191.9 L1599.5 192.0 L1600.0 192.0 L1601.0 192.0 L1602.5 192.1 L1604.0 192.2 L1605.5 192.3 L1607.0 192.4 L1608.5 192.5 L1610.0 192.6 L1611.5 192.7 L1613.0 192.8 L1614.5 193.0 L1616.0 193.1 L1617.5 193.2 L1619.0 193.4 L1620.5 193.5 L1622.0 193.6 L1623.5 193.8 L1625.0 193.9 L1626.5 194.1 L1628.0 194.3 L1629.5 194.4 L1631.0 194.6 L1632.5 194.8 L1634.0 194.9 L1635.5 195.1 L1637.0 195.3 L1638.5 195.5 L1640.0 195.7 L1641.5 195.8 L1643.0 196.0 L1644.5 196.2 L1646.0 196.4 L1647.5 196.6 L1649.0 196.8 L1650.5 197.0 L1652.0 197.2 L1653.5 197.4 L1655.0 197.6 L1656.5 197.9 L1658.0 198.1 L1659.5 198.3 L1661.0 198.6 L1662.5 198.8 L1664.0 199.1 L1665.5 199.4 L1667.0 199.6 L1668.5 199.9 L1670.0 200.2 L1671.5 200.5 L1673.0 200.8 L1674.5 201.0 L1676.0 201.3 L1677.5 201.6 L1679.0 201.9 L1680.5 202.2 L1682.0 202.6 L1683.5 202.9 L1685.0 203.2 L1686.5 203.5 L1688.0 203.8 L1689.5 204.2 L1691.0 204.5 L1692.0 204.7 L1692.5 204.8 L1694.0 205.1 L1695.5 205.5 L1697.0 205.8 L1698.5 206.2 L1700.0 206.6 L1701.5 206.9 L1703.0 207.3 L1704.5 207.7 L1706.0 208.1 L1707.5 208.5 L1709.0 208.9 L1710.5 209.3 L1712.0 209.7 L1713.5 210.2 L1715.0 210.6 L1716.5 211.1 L1718.0 211.5 L1719.5 212.0 L1721.0 212.5 L1722.5 212.9 L1724.0 213.4 L1725.5 213.9 L1726.6 214.3 L1727.0 214.4 L1728.5 215.0 L1730.0 215.5 L1731.5 216.0 L1733.0 216.6 L1734.5 217.2 L1736.0 217.7 L1737.5 218.3 L1739.0 218.9 L1740.5 219.6 L1742.0 220.2 L1743.5 220.8 L1745.0 221.5 L1746.5 222.2 L1748.0 222.8 L1749.5 223.5 L1751.0 224.2 L1752.5 225.0 L1754.0 225.7 L1755.5 226.4 L1757.0 227.2 L1758.5 227.9 L1760.0 228.7 L1761.1 229.3 L1761.5 229.5 L1763.0 230.3 L1764.5 231.2 L1766.0 232.1 L1767.5 233.1 L1769.0 234.0 L1770.5 235.0 L1772.0 236.0 L1773.5 237.0 L1775.0 238.1 L1776.5 239.1 L1778.0 240.1 L1779.5 241.2 L1781.0 242.2 L1782.5 243.2 L1784.0 244.2 L1784.1 244.3 L1785.5 245.2 L1787.0 246.3 L1788.5 247.3 L1790.0 248.4 L1791.5 249.4 L1793.0 250.4 L1794.5 251.4 L1796.0 252.4 L1797.5 253.3 L1797.9 253.5 L1799.0 254.1 L1800.5 255.0 L1802.0 255.9 L1803.5 256.7 L1805.0 257.4 L1806.5 257.9 L1807.1 258.1 L1808.0 258.3 L1809.5 258.7 L1811.0 259.0 L1812.5 259.2 L1812.9 259.2 L1814.0 259.1 L1815.5 258.8 L1817.0 258.3 L1818.5 257.6 L1818.6 257.6 L1820.0 256.8 L1821.5 255.6 L1823.0 254.2 L1824.5 252.4 L1825.5 251.2 L1826.0 250.5 L1827.5 248.0 L1829.0 245.0 L1830.5 241.6 L1832.0 238.3 L1832.4 237.4 L1833.5 234.9 L1835.0 231.3 L1836.5 227.6 L1838.0 224.0 L1839.3 221.2 L1839.5 220.8 L1841.0 217.7 L1842.5 214.8 L1844.0 212.1 L1845.5 209.6 L1846.2 208.6 L1847.0 207.5 L1848.5 205.4 L1850.0 203.5 L1851.5 201.9 L1853.0 200.6 L1853.1 200.5 L1854.5 199.5 L1856.0 198.6 L1857.5 197.7 L1859.0 197.0 L1860.5 196.4 L1862.0 196.0 L1862.3 195.9 L1863.5 195.6 L1865.0 195.3 L1866.5 195.1 L1868.0 194.8 L1869.5 194.6 L1871.0 194.4 L1872.5 194.3 L1874.0 194.2 L1875.5 194.1 L1876.1 194.1 L1877.0 194.1 L1878.5 194.1 L1880.0 194.1 L1881.5 194.1 L1883.0 194.1 L1884.5 194.1 L1886.0 194.1 L1887.5 194.1 L1889.0 194.1 L1890.5 194.1 L1892.0 194.1 L1893.5 194.1 L1895.0 194.1 L1896.5 194.1 L1898.0 194.1 L1899.5 194.1 L1901.0 194.1 L1902.5 194.1 L1904.0 194.1 L1905.5 194.1 L1907.0 194.1 L1908.5 194.1 L1910.0 194.1 L1911.5 194.1 L1913.0 194.1 L1914.5 194.1 L1916.0 194.1 L1917.5 194.1 L1919.0 194.1 L1920.5 194.1 L1922.0 194.1 L1923.5 194.1 L1925.0 194.1 L1926.5 194.1 L1928.0 194.1 L1929.5 194.1 L1931.0 194.1 L1932.5 194.1 L1934.0 194.1 L1935.5 194.1 L1937.0 194.1 L1938.5 194.1 L1940.0 194.1 L1941.5 194.1 L1943.0 194.1 L1944.5 194.1 L1946.0 194.1 L1947.5 194.1 L1949.0 194.1 L1950.5 194.1 L1952.0 194.2 L1953.5 194.2 L1955.0 194.2 L1956.5 194.2 L1958.0 194.2 L1959.5 194.2 L1961.0 194.2 L1962.5 194.2 L1964.0 194.2 L1965.5 194.2 L1967.0 194.2 L1968.5 194.2 L1970.0 194.2 L1971.5 194.2 L1973.0 194.2 L1974.5 194.3 L1976.0 194.3 L1977.5 194.3 L1979.0 194.3 L1980.5 194.3 L1982.0 194.3 L1983.5 194.3 L1985.0 194.3 L1986.5 194.3 L1988.0 194.3 L1989.5 194.4 L1991.0 194.4 L1992.5 194.4 L1994.0 194.4 L1995.5 194.4 L1997.0 194.4 L1998.5 194.4 L2000.0 194.4 L2001.5 194.4 L2003.0 194.5 L2004.5 194.5 L2006.0 194.5 L2007.5 194.5 L2009.0 194.5 L2010.5 194.5 L2012.0 194.5 L2013.5 194.5 L2015.0 194.6 L2016.5 194.6 L2018.0 194.6 L2019.5 194.6 L2021.0 194.6 L2022.5 194.6 L2024.0 194.6 L2025.5 194.7 L2027.0 194.7 L2028.5 194.7 L2030.0 194.7 L2031.5 194.7 L2033.0 194.7 L2034.5 194.8 L2036.0 194.8 L2037.5 194.8 L2039.0 194.8 L2040.5 194.8 L2042.0 194.8 L2043.5 194.8 L2045.0 194.9 L2046.5 194.9 L2048.0 194.9 L2049.5 194.9 L2051.0 194.9 L2052.5 194.9 L2054.0 195.0 L2055.5 195.0 L2057.0 195.0" fill="none" stroke="#CC9900" stroke-width="8" stroke-linejoin="round"/>
<text x="335.3" y="1503.2" font-family="'Noto Serif CJK SC','Liberation Serif',serif" font-weight="300" font-size="54.5" text-anchor="middle">50</text>
<text x="653.9" y="1503.2" font-family="'Noto Serif CJK SC','Liberation Serif',serif" font-weight="300" font-size="54.5" text-anchor="middle">100</text>
<text x="972.5" y="1503.2" font-family="'Noto Serif CJK SC','Liberation Serif',serif" font-weight="300" font-size="54.5" text-anchor="middle">150</text>
<text x="1291.1" y="1503.2" font-family="'Noto Serif CJK SC','Liberation Serif',serif" font-weight="300" font-size="54.5" text-anchor="middle">200</text>
<text x="1609.7" y="1503.2" font-family="'Noto Serif CJK SC','Liberation Serif',serif" font-weight="300" font-size="54.5" text-anchor="middle">250</text>
<text x="1928.3" y="1503.2" font-family="'Noto Serif CJK SC','Liberation Serif',serif" font-weight="300" font-size="54.5" text-anchor="middle">300</text>
<text x="1133.2" y="144.3" font-family="'Liberation Serif','Noto Serif CJK SC',serif" font-size="65">PPS/G-ZnO(0.5)</text>
<text x="1133.2" y="376.2" font-family="'Liberation Serif','Noto Serif CJK SC',serif" font-size="65">PPS/G-ZnO(0.4)</text>
<text x="1146.0" y="620.3" font-family="'Liberation Serif','Noto Serif CJK SC',serif" font-size="65">PPS/G-ZnO(0.3)</text>
<text x="1138.0" y="849.1" font-family="'Liberation Serif','Noto Serif CJK SC',serif" font-size="65">PPS/G-ZnO(0.2)</text>
<text x="1147.1" y="1014" font-family="'Liberation Serif','Noto Serif CJK SC',serif" font-size="65">PPS/G-ZnO(0.1)</text>
<text x="1161.6" y="1273.7" font-family="'Liberation Serif','Noto Serif CJK SC',serif" font-size="65">PPS</text>
<text transform="translate(184.91,115.40) scale(0.7214,0.6000)" font-family="'Noto Serif CJK SC','Liberation Serif',serif" font-weight="300" font-size="100">（</text>
<text x="264.3" y="120" font-family="'Liberation Serif','Noto Serif CJK SC',serif" font-size="72">a</text>
<text transform="translate(301.00,115.40) scale(0.7143,0.6000)" font-family="'Noto Serif CJK SC','Liberation Serif',serif" font-weight="300" font-size="100">）</text>
<text transform="translate(855.6,1585) scale(0.986,1)" font-family="'Liberation Serif','Noto Serif CJK SC',serif" font-size="72">Temperature</text>
<text transform="translate(1212.44,1581.49) scale(0.7286,0.6011)" font-family="'Noto Serif CJK SC','Liberation Serif',serif" font-weight="300" font-size="100">（</text>
<text x="1290.3" y="1585" font-family="'Liberation Serif','Noto Serif CJK SC',serif" font-size="72">°C</text>
<text transform="translate(1369.80,1581.49) scale(0.7286,0.6011)" font-family="'Noto Serif CJK SC','Liberation Serif',serif" font-weight="300" font-size="100">）</text>
<text transform="translate(87.4,1062) rotate(-90)" font-family="'Liberation Serif','Noto Serif CJK SC',serif" font-size="72">Heat flow</text>
<text transform="translate(87.4,1062) rotate(-90) translate(279.84,-3.67) scale(0.7286,0.6075)" font-family="'Noto Serif CJK SC','Liberation Serif',serif" font-weight="300" font-size="100">（</text>
<text transform="translate(87.4,1062) rotate(-90)" x="357.9" font-family="'Liberation Serif','Noto Serif CJK SC',serif" font-size="72">mW/mg</text>
<text transform="translate(87.4,1062) rotate(-90) translate(599.10,-3.67) scale(0.7286,0.6075)" font-family="'Noto Serif CJK SC','Liberation Serif',serif" font-weight="300" font-size="100">）</text>
</svg>
</body></html>
